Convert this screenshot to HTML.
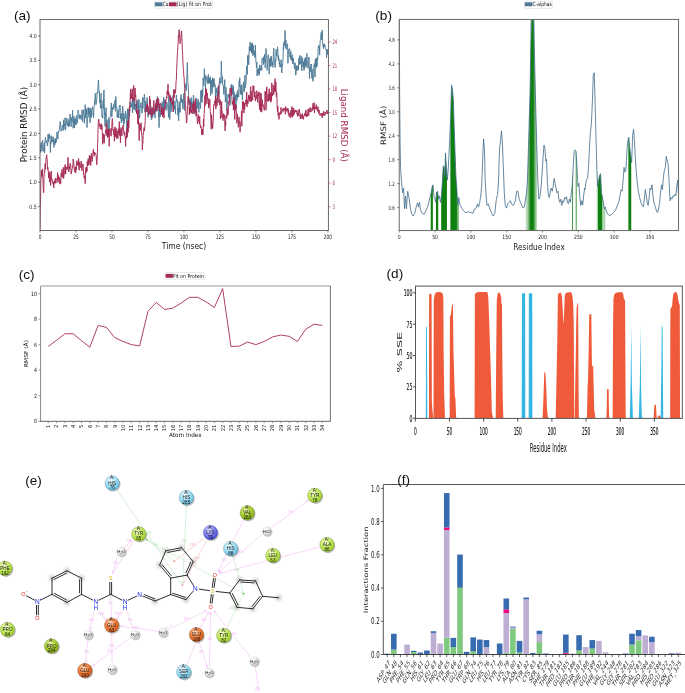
<!DOCTYPE html>
<html><head><meta charset="utf-8"><title>Figure</title>
<style>html,body{margin:0;padding:0;background:#fff}svg{display:block}</style></head>
<body>
<svg width="685" height="693" viewBox="0 0 685 693">
<rect width="685" height="693" fill="#fff"/>
<clipPath id="clipA"><rect x="40.0" y="19.6" width="288.4" height="210.9"/></clipPath>
<g clip-path="url(#clipA)">
<polyline points="40,144.59 40.29,149.4 40.58,152.57 40.86,147.08 41.15,142.4 41.44,145.99 41.73,148.6 42.02,151.3 42.31,142.56 42.59,140.04 42.88,146.98 43.17,147.31 43.46,151.21 43.75,149.62 44.04,144.74 44.32,142.7 44.61,153.04 44.9,143.86 45.19,139.78 45.48,137.36 45.77,141.49 46.05,142.44 46.34,140.59 46.63,141.13 46.92,142.41 47.21,144.18 47.5,145.99 47.78,142.78 48.07,134.13 48.36,141.79 48.65,135.05 48.94,138.29 49.23,133.77 49.51,138.38 49.8,136.21 50.09,139.62 50.38,152.51 50.67,142.36 50.95,143.67 51.24,135.59 51.53,137.93 51.82,142.22 52.11,140.3 52.4,141.75 52.68,141.11 52.97,136.71 53.26,141.95 53.55,137.81 53.84,147.44 54.13,140.36 54.41,143.52 54.7,141.63 54.99,144.68 55.28,138.47 55.57,142.67 55.86,138.54 56.14,142.37 56.43,140.04 56.72,136.98 57.01,132.03 57.3,136.31 57.59,135.4 57.87,139.11 58.16,131.37 58.45,132.63 58.74,132.05 59.03,130.37 59.32,129.04 59.6,127.97 59.89,124.05 60.18,121.45 60.47,123.07 60.76,127.05 61.05,131.29 61.33,129.92 61.62,129.69 61.91,128.33 62.2,127.5 62.49,125.09 62.77,126.63 63.06,130.65 63.35,123.11 63.64,119.8 63.93,129.2 64.22,124.35 64.5,125.89 64.79,125.63 65.08,117.73 65.37,129.93 65.66,130.05 65.95,123.84 66.23,124.72 66.52,122.47 66.81,118.03 67.1,120.07 67.39,122.41 67.68,125.82 67.96,124.99 68.25,122.27 68.54,126.72 68.83,119.45 69.12,123.91 69.41,126.14 69.69,121.15 69.98,114.11 70.27,115.84 70.56,120.53 70.85,122.54 71.14,126.82 71.42,117.65 71.71,119.41 72,122.17 72.29,119.48 72.58,110.11 72.86,120.29 73.15,128.25 73.44,124.75 73.73,116.34 74.02,116.31 74.31,118.62 74.59,127.83 74.88,122.42 75.17,119.21 75.46,124.06 75.75,118.66 76.04,124.97 76.32,116.36 76.61,115.21 76.9,119.54 77.19,123.16 77.48,120.88 77.77,118.93 78.05,110.15 78.34,112.46 78.63,113.3 78.92,113.7 79.21,118.09 79.5,115.38 79.78,119.09 80.07,117.08 80.36,114.95 80.65,116.16 80.94,117.56 81.23,119.47 81.51,114.61 81.8,114.42 82.09,109.89 82.38,120.39 82.67,122.03 82.95,115.96 83.24,113.38 83.53,109.79 83.82,114.4 84.11,115.48 84.4,123.35 84.68,117.46 84.97,112.23 85.26,104.66 85.55,118.11 85.84,116.38 86.13,109.06 86.41,114.51 86.7,108.8 86.99,127.47 87.28,122.44 87.57,119.28 87.86,115.74 88.14,107.38 88.43,113.46 88.72,109.31 89.01,116.86 89.3,107.92 89.59,110.84 89.87,119.62 90.16,122.81 90.45,112.15 90.74,108.1 91.03,116.28 91.32,117.64 91.6,110.42 91.89,109.64 92.18,109.13 92.47,106.75 92.76,107.88 93.05,115.32 93.33,113.69 93.62,117.68 93.91,109.24 94.2,106.22 94.49,101.29 94.77,102.58 95.06,97.26 95.35,93.31 95.64,101.13 95.93,104.78 96.22,102.26 96.5,102.81 96.79,98.05 97.08,92.51 97.37,93.73 97.66,91.49 97.95,87.42 98.23,80.91 98.52,79.91 98.81,87.94 99.1,92.3 99.39,91.19 99.68,102.69 99.96,99.74 100.25,102.65 100.54,108.22 100.83,99.83 101.12,93.21 101.41,108.11 101.69,105.02 101.98,116.76 102.27,115.53 102.56,118.47 102.85,116.84 103.14,100.2 103.42,108.7 103.71,91.79 104,89.98 104.29,103.31 104.58,116.32 104.86,122.79 105.15,126.59 105.44,112.9 105.73,116.23 106.02,107.71 106.31,118.75 106.59,125.52 106.88,120.05 107.17,124.86 107.46,126.34 107.75,131.41 108.04,122.84 108.32,119.37 108.61,117.84 108.9,130.12 109.19,128.08 109.48,119.88 109.77,118.86 110.05,116.9 110.34,115.83 110.63,112.22 110.92,109.62 111.21,102.88 111.5,104.31 111.78,117.02 112.07,113.51 112.36,109.93 112.65,107.39 112.94,108.13 113.23,109.65 113.51,104.3 113.8,107.5 114.09,108.22 114.38,102.75 114.67,101.16 114.95,100.3 115.24,100.2 115.53,111.3 115.82,96.44 116.11,105.05 116.4,105.52 116.68,106.02 116.97,110.5 117.26,117.56 117.55,113.82 117.84,112.27 118.13,109.58 118.41,111.74 118.7,118.05 118.99,112.46 119.28,107.27 119.57,105.64 119.86,106.29 120.14,105.03 120.43,118.5 120.72,117.55 121.01,114.25 121.3,122.94 121.59,113.45 121.87,119.21 122.16,120.89 122.45,108.59 122.74,105.98 123.03,109.1 123.32,120.31 123.6,125.35 123.89,113.13 124.18,123.32 124.47,118.2 124.76,117.46 125.05,116.89 125.33,118.45 125.62,111.09 125.91,114.38 126.2,114.27 126.49,122.85 126.77,132.54 127.06,137.34 127.35,120.8 127.64,108.75 127.93,112.44 128.22,109.5 128.5,123.96 128.79,118.59 129.08,109.61 129.37,116.11 129.66,114.71 129.95,101.96 130.23,104.49 130.52,106 130.81,107.1 131.1,107.31 131.39,104.51 131.68,106.78 131.96,102.97 132.25,100.36 132.54,112.89 132.83,109.26 133.12,108.81 133.41,97.53 133.69,102.78 133.98,109.24 134.27,99.06 134.56,109.79 134.85,103.96 135.14,106.92 135.42,104.58 135.71,105.9 136,111.5 136.29,103.97 136.58,113.35 136.86,102.82 137.15,99.91 137.44,108.47 137.73,100.87 138.02,103.23 138.31,110.94 138.59,114.52 138.88,99.23 139.17,108.55 139.46,118.35 139.75,116.97 140.04,109.05 140.32,105.57 140.61,106.68 140.9,102.48 141.19,106.63 141.48,107.09 141.77,106.73 142.05,113.23 142.34,106.28 142.63,97.37 142.92,108.43 143.21,98.59 143.5,99.17 143.78,100.33 144.07,98.77 144.36,94.15 144.65,97.33 144.94,112.21 145.23,100.91 145.51,101.67 145.8,109.4 146.09,109.7 146.38,110.54 146.67,111.94 146.95,97.47 147.24,100.99 147.53,107.86 147.82,112.07 148.11,117.39 148.4,114.2 148.68,109.78 148.97,110.47 149.26,109.41 149.55,111.82 149.84,114.84 150.13,110.12 150.41,106.64 150.7,105.8 150.99,116.42 151.28,119.91 151.57,119.25 151.86,118.52 152.14,118.38 152.43,113.94 152.72,116.75 153.01,107.77 153.3,110.09 153.59,107.4 153.87,114.48 154.16,108.61 154.45,109.59 154.74,112.28 155.03,117.79 155.32,106.98 155.6,103.5 155.89,112.02 156.18,103.09 156.47,109.34 156.76,104.83 157.05,106.07 157.33,96.68 157.62,108.15 157.91,103.97 158.2,101.1 158.49,116.87 158.77,113.03 159.06,127.61 159.35,114.04 159.64,107.07 159.93,108.18 160.22,116.76 160.5,109.88 160.79,111.12 161.08,111.9 161.37,104.43 161.66,108.61 161.95,106.24 162.23,101.81 162.52,112.54 162.81,113.9 163.1,110.84 163.39,104.73 163.68,97.31 163.96,109.21 164.25,108.56 164.54,99.69 164.83,106.53 165.12,99.98 165.41,106.62 165.69,108.94 165.98,110.53 166.27,110.05 166.56,109.62 166.85,102.29 167.14,104.73 167.42,104.5 167.71,105.88 168,108.86 168.29,111.35 168.58,117.37 168.86,95.67 169.15,107.04 169.44,106.19 169.73,119.44 170.02,114.95 170.31,99.76 170.59,107.56 170.88,104.17 171.17,111.62 171.46,101.99 171.75,105.01 172.04,105.43 172.32,105.64 172.61,102.95 172.9,95.49 173.19,106.41 173.48,111.75 173.77,107.1 174.05,100.9 174.34,106.19 174.63,109.34 174.92,105.98 175.21,106.13 175.5,113.93 175.78,101.84 176.07,102.25 176.36,94.98 176.65,99.96 176.94,100.84 177.23,99.83 177.51,101.06 177.8,115.18 178.09,108.18 178.38,107.75 178.67,120.93 178.95,112.15 179.24,101.74 179.53,111.77 179.82,107.31 180.11,112.41 180.4,99.35 180.68,99.99 180.97,94.42 181.26,102.38 181.55,97.94 181.84,102.04 182.13,101.13 182.41,99.52 182.7,107.55 182.99,109.17 183.28,104.64 183.57,97.16 183.86,93.42 184.14,98.79 184.43,110.43 184.72,96.32 185.01,90.3 185.3,88.32 185.59,84.59 185.87,83.32 186.16,84.55 186.45,90.58 186.74,81.08 187.03,73.2 187.32,62.44 187.6,73.35 187.89,83.51 188.18,83.84 188.47,88.96 188.76,97.83 189.05,104.97 189.33,104.56 189.62,102.3 189.91,99.04 190.2,101.96 190.49,100.91 190.77,112.74 191.06,97.42 191.35,98.34 191.64,107.62 191.93,101.53 192.22,109.65 192.5,103.64 192.79,103.58 193.08,100.97 193.37,95.11 193.66,96.28 193.95,114.16 194.23,109.75 194.52,108.78 194.81,110.7 195.1,109.16 195.39,111.4 195.68,104.97 195.96,103.9 196.25,110.37 196.54,104.61 196.83,98.11 197.12,102.83 197.41,102.23 197.69,108.54 197.98,102.76 198.27,99.69 198.56,102.15 198.85,112.34 199.14,105.2 199.42,104.13 199.71,102.42 200,102.97 200.29,105.9 200.58,108.46 200.86,90.64 201.15,101.58 201.44,94.99 201.73,90.26 202.02,102.52 202.31,89.65 202.59,96.82 202.88,91.51 203.17,77.89 203.46,83.17 203.75,85.79 204.04,81.66 204.32,68.72 204.61,76.71 204.9,79.3 205.19,74.87 205.48,89.91 205.77,81.91 206.05,79.34 206.34,79.29 206.63,76.67 206.92,76.27 207.21,81.05 207.5,83.41 207.78,79.56 208.07,81.1 208.36,74.46 208.65,83.54 208.94,78.72 209.23,83.03 209.51,77.97 209.8,79.11 210.09,83.46 210.38,76.74 210.67,95.47 210.95,86.02 211.24,83.85 211.53,79.88 211.82,91.83 212.11,93.44 212.4,87.97 212.68,77.77 212.97,80.36 213.26,87.26 213.55,83.14 213.84,79.01 214.13,78.53 214.41,81.15 214.7,86.46 214.99,84.47 215.28,88.12 215.57,104.52 215.86,103.01 216.14,87.78 216.43,92.42 216.72,91.82 217.01,90.12 217.3,95.92 217.59,89.4 217.87,87.72 218.16,86.8 218.45,87.82 218.74,95.33 219.03,93.92 219.32,80.93 219.6,81.23 219.89,77.78 220.18,84.25 220.47,80.88 220.76,82.19 221.05,75.06 221.33,61.12 221.62,71.88 221.91,77.28 222.2,83.17 222.49,76.56 222.77,84.91 223.06,84.79 223.35,85.74 223.64,92.28 223.93,94.5 224.22,88.98 224.5,84.08 224.79,79.63 225.08,89.8 225.37,102.1 225.66,99.16 225.95,87.31 226.23,93.07 226.52,101.92 226.81,110.23 227.1,109.08 227.39,104.23 227.68,102.01 227.96,94.43 228.25,95.86 228.54,96.6 228.83,94.13 229.12,97.93 229.41,96.05 229.69,99.4 229.98,105.38 230.27,102.01 230.56,98.66 230.85,93.48 231.14,84.52 231.42,89.38 231.71,93.19 232,84.72 232.29,94.36 232.58,88.09 232.86,92 233.15,90.16 233.44,85.82 233.73,104.13 234.02,91.65 234.31,101.39 234.59,96.61 234.88,100.46 235.17,94.66 235.46,95.06 235.75,102 236.04,108.67 236.32,94.44 236.61,95.54 236.9,100.45 237.19,92.47 237.48,97.58 237.77,90.09 238.05,95.58 238.34,94.42 238.63,97.01 238.92,91.6 239.21,80.57 239.5,86.93 239.78,77.66 240.07,87.12 240.36,94.2 240.65,91.6 240.94,85.6 241.23,94.66 241.51,91.9 241.8,84.42 242.09,88.48 242.38,99.9 242.67,92.5 242.95,92.84 243.24,90.06 243.53,81.79 243.82,86.07 244.11,91.43 244.4,91.47 244.68,89.08 244.97,75.2 245.26,87.9 245.55,85.48 245.84,84.14 246.13,82.88 246.41,70.69 246.7,65.8 246.99,68.17 247.28,74.54 247.57,56.02 247.86,58.32 248.14,54.79 248.43,59.94 248.72,64.89 249.01,55.24 249.3,46.83 249.59,50.91 249.87,48.85 250.16,41.91 250.45,50.6 250.74,46.65 251.03,51.38 251.32,43.64 251.6,52.95 251.89,43.8 252.18,53.16 252.47,42.77 252.76,55.52 253.05,51.1 253.33,45.47 253.62,50.8 253.91,55.18 254.2,50.83 254.49,52.75 254.77,57.3 255.06,57.17 255.35,44.95 255.64,54.89 255.93,61.72 256.22,63.44 256.5,67.82 256.79,61.96 257.08,75.99 257.37,71.9 257.66,69.51 257.95,73.15 258.23,74.07 258.52,71.15 258.81,67.97 259.1,75.35 259.39,74.98 259.68,65.16 259.96,64.91 260.25,70.77 260.54,69.33 260.83,68.66 261.12,69.01 261.41,65.74 261.69,70.34 261.98,60.48 262.27,58.04 262.56,59.62 262.85,60.74 263.14,60.94 263.42,64.53 263.71,56.74 264,62.62 264.29,61 264.58,54.1 264.86,56.86 265.15,67.66 265.44,64.44 265.73,58.32 266.02,48.55 266.31,54.08 266.59,55.53 266.88,59.46 267.17,70.45 267.46,65.96 267.75,63.15 268.04,57.04 268.32,54.69 268.61,58.67 268.9,58.49 269.19,74.15 269.48,62.41 269.77,58.99 270.05,66.17 270.34,63.15 270.63,56.71 270.92,66.73 271.21,61.86 271.5,56.34 271.78,62.64 272.07,64.89 272.36,61.79 272.65,65.87 272.94,67.43 273.23,59.41 273.51,51.8 273.8,48.07 274.09,56.84 274.38,64.3 274.67,64.36 274.95,65.55 275.24,67.34 275.53,58.91 275.82,61.16 276.11,49.5 276.4,56.39 276.68,56.14 276.97,53.45 277.26,50.85 277.55,46.81 277.84,51.1 278.13,58.91 278.41,55.48 278.7,60.78 278.99,58.61 279.28,64.27 279.57,61.89 279.86,66.99 280.14,65.26 280.43,67.14 280.72,63.27 281.01,59.73 281.3,62.61 281.59,69.22 281.87,72.97 282.16,65.12 282.45,66.11 282.74,63.5 283.03,58.81 283.32,46.58 283.6,49.83 283.89,42.27 284.18,45.94 284.47,41.06 284.76,41.06 285.05,30.36 285.33,43.98 285.62,47.62 285.91,40.22 286.2,49.35 286.49,48.02 286.77,47.25 287.06,45.17 287.35,43.74 287.64,46.47 287.93,63.28 288.22,54.47 288.5,52.98 288.79,49.23 289.08,48.96 289.37,49.62 289.66,48.7 289.95,56.85 290.23,53.96 290.52,58.87 290.81,51.33 291.1,59.47 291.39,57.43 291.68,60.54 291.96,58.21 292.25,54.64 292.54,63.71 292.83,58.77 293.12,60.04 293.41,58 293.69,63.43 293.98,62.94 294.27,66.83 294.56,68.95 294.85,65.76 295.14,62.81 295.42,71.41 295.71,75.2 296,74.43 296.29,65.52 296.58,70.92 296.86,70.64 297.15,69.65 297.44,69.6 297.73,65.73 298.02,66.92 298.31,70.06 298.59,63.99 298.88,58.12 299.17,62.48 299.46,64.46 299.75,55.4 300.04,58.31 300.32,64.29 300.61,61.95 300.9,62.19 301.19,55.92 301.48,64.76 301.77,70.85 302.05,63.76 302.34,60.15 302.63,57.79 302.92,66.79 303.21,65.58 303.5,61.62 303.78,70.1 304.07,70.28 304.36,69.94 304.65,58.72 304.94,62.7 305.23,66 305.51,57.59 305.8,64.55 306.09,67.49 306.38,65.51 306.67,56.36 306.95,53.57 307.24,60.44 307.53,63.66 307.82,66.55 308.11,68.18 308.4,63.83 308.68,62.61 308.97,56.98 309.26,68.7 309.55,78.74 309.84,68.71 310.13,66.68 310.41,71.5 310.7,71.55 310.99,63.96 311.28,65.46 311.57,64.3 311.86,78.25 312.14,69.27 312.43,74.56 312.72,80.72 313.01,81.4 313.3,78.83 313.59,78.62 313.87,65.17 314.16,65.63 314.45,63.46 314.74,64.38 315.03,77.08 315.32,60.03 315.6,65.75 315.89,58.39 316.18,67.46 316.47,67.7 316.76,58.23 317.05,66.32 317.33,57.74 317.62,59.96 317.91,54.59 318.2,48.1 318.49,46.07 318.77,45.47 319.06,48.29 319.35,46.15 319.64,55.14 319.93,45.1 320.22,41.1 320.5,38.53 320.79,37.03 321.08,32.47 321.37,32.38 321.66,39.72 321.95,34.99 322.23,30.08 322.52,37.29 322.81,45.46 323.1,46.16 323.39,48.52 323.68,44.56 323.96,45.49 324.25,43.81 324.54,46.97 324.83,44.91 325.12,46.94 325.41,48.75 325.69,49.45 325.98,49.86 326.27,49.42 326.56,57.88 326.85,52.82 327.14,49.19 327.42,54.27 327.71,50.12 328,49.76" fill="none" stroke="#4e7b98" stroke-width="0.95" stroke-linejoin="miter" stroke-miterlimit="3" />
<polyline points="40,230 40.29,204.87 40.58,198.86 40.86,179.23 41.15,178.64 41.44,170.21 41.73,176.67 42.02,173.35 42.31,175.37 42.59,168.84 42.88,178.52 43.17,185.4 43.46,192.59 43.75,192.63 44.04,177.07 44.32,174.25 44.61,173.19 44.9,167.2 45.19,163.34 45.48,169.41 45.77,162.69 46.05,157.83 46.34,157.76 46.63,154.72 46.92,157.13 47.21,159.61 47.5,169.47 47.78,167.19 48.07,169.01 48.36,172.39 48.65,178.08 48.94,173.19 49.23,171.75 49.51,182.08 49.8,172.88 50.09,174.85 50.38,178.93 50.67,185.36 50.95,177.06 51.24,171.03 51.53,179.87 51.82,178.55 52.11,179.13 52.4,182.37 52.68,182.79 52.97,183.54 53.26,181.81 53.55,186.44 53.84,187.92 54.13,183.38 54.41,180.64 54.7,183.54 54.99,183.15 55.28,178.06 55.57,178.54 55.86,183.17 56.14,180.36 56.43,178.79 56.72,179.92 57.01,179.17 57.3,178.88 57.59,172.52 57.87,182.47 58.16,179.56 58.45,175.31 58.74,179.99 59.03,178.69 59.32,177.26 59.6,179.96 59.89,184.15 60.18,179.47 60.47,181.46 60.76,183.48 61.05,173.7 61.33,172.89 61.62,176.57 61.91,169.34 62.2,172.06 62.49,177.34 62.77,177.49 63.06,175.84 63.35,167.39 63.64,178.53 63.93,174.99 64.22,174.55 64.5,173.26 64.79,165.69 65.08,164.57 65.37,164.67 65.66,174.21 65.95,167.33 66.23,167.33 66.52,166.97 66.81,169.57 67.1,169.93 67.39,169.27 67.68,164.32 67.96,157.32 68.25,166.18 68.54,168.45 68.83,171.98 69.12,168.56 69.41,166.21 69.69,168.9 69.98,163.27 70.27,163.56 70.56,163.65 70.85,167.67 71.14,174.15 71.42,171.33 71.71,171.82 72,169.01 72.29,168.45 72.58,165.96 72.86,165.86 73.15,159.01 73.44,161.29 73.73,161.45 74.02,168.09 74.31,168.93 74.59,170.54 74.88,172.13 75.17,166.55 75.46,169.52 75.75,172.93 76.04,167.43 76.32,169.59 76.61,166.05 76.9,160.65 77.19,164.83 77.48,162.72 77.77,165.1 78.05,163.75 78.34,165.85 78.63,158.5 78.92,170.09 79.21,170.28 79.5,164.87 79.78,161.85 80.07,164.5 80.36,167.53 80.65,167.74 80.94,168.06 81.23,161.01 81.51,162.43 81.8,170.86 82.09,169.59 82.38,164.1 82.67,165.29 82.95,164.06 83.24,165.93 83.53,174.51 83.82,173.11 84.11,178.19 84.4,177.46 84.68,175.91 84.97,180.73 85.26,183.69 85.55,171.43 85.84,167.41 86.13,172.7 86.41,169.08 86.7,167.55 86.99,171.4 87.28,161.38 87.57,165.61 87.86,161.28 88.14,158.68 88.43,159.45 88.72,165.38 89.01,162 89.3,155.28 89.59,155.59 89.87,163.65 90.16,163.43 90.45,156.19 90.74,165.48 91.03,158.16 91.32,153.48 91.6,155.44 91.89,158.92 92.18,161.45 92.47,159.73 92.76,154.27 93.05,152.23 93.33,149.37 93.62,153.53 93.91,153.11 94.2,156.06 94.49,152.18 94.77,154.08 95.06,153.66 95.35,152.87 95.64,153.1 95.93,154.92 96.22,156.23 96.5,163.5 96.79,164.94 97.08,160.84 97.37,154.77 97.66,144.16 97.95,133.18 98.23,122.73 98.52,121.86 98.81,119.26 99.1,123.38 99.39,126.53 99.68,125.7 99.96,123.9 100.25,128.68 100.54,127.82 100.83,129.15 101.12,123.64 101.41,129.36 101.69,124.69 101.98,125.18 102.27,131.48 102.56,144.21 102.85,141.6 103.14,135.97 103.42,133.69 103.71,139.67 104,143.23 104.29,143.19 104.58,135.54 104.86,135.99 105.15,133.32 105.44,133.05 105.73,129.94 106.02,132.65 106.31,122.88 106.59,126.04 106.88,135.72 107.17,130.51 107.46,137.49 107.75,129.03 108.04,132.27 108.32,136.69 108.61,129.42 108.9,129.22 109.19,146.29 109.48,132.36 109.77,128.79 110.05,128.35 110.34,131.21 110.63,131.14 110.92,136.29 111.21,136 111.5,129 111.78,127.34 112.07,120.79 112.36,118.53 112.65,121.82 112.94,130.23 113.23,129.11 113.51,132.98 113.8,134.93 114.09,129.62 114.38,141.22 114.67,129.72 114.95,126.96 115.24,127.77 115.53,136.88 115.82,132.23 116.11,128.24 116.4,133.96 116.68,138.84 116.97,132.98 117.26,130.81 117.55,137.55 117.84,138.37 118.13,138.23 118.41,128.71 118.7,132.25 118.99,133.35 119.28,121.64 119.57,135.39 119.86,132.38 120.14,129.3 120.43,142.91 120.72,134.29 121.01,127.64 121.3,129.78 121.59,133.69 121.87,135.92 122.16,131.64 122.45,126.27 122.74,126 123.03,125.59 123.32,125.23 123.6,131.65 123.89,131.33 124.18,135.08 124.47,131.93 124.76,131.86 125.05,136.42 125.33,137.37 125.62,146.48 125.91,135.79 126.2,138.55 126.49,136.84 126.77,128.56 127.06,136.93 127.35,134.75 127.64,120.88 127.93,131.63 128.22,132.43 128.5,120.22 128.79,128.3 129.08,118.77 129.37,106.64 129.66,110.87 129.95,105.31 130.23,97.04 130.52,89.12 130.81,98.78 131.1,93.85 131.39,98.63 131.68,96.96 131.96,90.94 132.25,88.71 132.54,99.96 132.83,101.26 133.12,96.62 133.41,90.01 133.69,85.5 133.98,88.14 134.27,100.32 134.56,96.79 134.85,92.28 135.14,88.13 135.42,96.79 135.71,94.85 136,101.17 136.29,108.42 136.58,113.69 136.86,111.63 137.15,109.53 137.44,113.29 137.73,123.85 138.02,119.5 138.31,109.97 138.59,125.12 138.88,122.47 139.17,140.66 139.46,124.21 139.75,124.27 140.04,124.91 140.32,130.42 140.61,128.09 140.9,124.37 141.19,122.8 141.48,133.96 141.77,135.05 142.05,135.67 142.34,149.97 142.63,144.23 142.92,143.23 143.21,132.98 143.5,133.74 143.78,129.77 144.07,127.59 144.36,130.95 144.65,129.05 144.94,124.61 145.23,120.53 145.51,108.71 145.8,107.7 146.09,111.34 146.38,107.58 146.67,104.46 146.95,109.73 147.24,103.7 147.53,103.51 147.82,111.72 148.11,106.53 148.4,114.91 148.68,111.59 148.97,112.2 149.26,113.86 149.55,96.15 149.84,103.93 150.13,99.27 150.41,102.98 150.7,105.98 150.99,114.2 151.28,109.23 151.57,117.53 151.86,107.78 152.14,108.42 152.43,109.59 152.72,114.71 153.01,110.27 153.3,105.94 153.59,106.33 153.87,100.37 154.16,113.3 154.45,113.13 154.74,111.13 155.03,109.64 155.32,104.3 155.6,103.98 155.89,110.29 156.18,102.57 156.47,99.29 156.76,110.04 157.05,110.96 157.33,102.92 157.62,101.12 157.91,98.58 158.2,106.05 158.49,98.44 158.77,100.52 159.06,104.05 159.35,110.92 159.64,104.16 159.93,106.19 160.22,103.61 160.5,103.05 160.79,103.84 161.08,108.91 161.37,114.78 161.66,107.94 161.95,107.38 162.23,108.78 162.52,113.63 162.81,117.02 163.1,107.67 163.39,114.75 163.68,109.45 163.96,117.98 164.25,111.24 164.54,108.35 164.83,106.98 165.12,107.94 165.41,100.86 165.69,103.57 165.98,101.58 166.27,98.54 166.56,96.63 166.85,98.21 167.14,90.86 167.42,93.61 167.71,94.47 168,84.17 168.29,95.5 168.58,92.16 168.86,92.13 169.15,94.01 169.44,97.74 169.73,99.85 170.02,101.25 170.31,95.33 170.59,101.63 170.88,101.63 171.17,97.38 171.46,98.56 171.75,103.36 172.04,102.53 172.32,103.89 172.61,101.12 172.9,105.69 173.19,111.87 173.48,103.16 173.77,89.64 174.05,97.91 174.34,94.91 174.63,92.18 174.92,89.19 175.21,93.15 175.5,93.26 175.78,88.78 176.07,81.48 176.36,79.52 176.65,70.79 176.94,62.63 177.23,56.81 177.51,51.74 177.8,47.5 178.09,44.07 178.38,35.38 178.67,37.39 178.95,30.81 179.24,29.69 179.53,33.72 179.82,41.33 180.11,43.76 180.4,42.49 180.68,40.92 180.97,37.44 181.26,33.42 181.55,30.95 181.84,36.1 182.13,42.55 182.41,50.45 182.7,55.62 182.99,63.68 183.28,67.58 183.57,70.68 183.86,77.04 184.14,77.5 184.43,84.55 184.72,88.43 185.01,99.19 185.3,103.05 185.59,105.82 185.87,114.59 186.16,115.26 186.45,123.08 186.74,122.71 187.03,116.69 187.32,111.96 187.6,105.49 187.89,100.3 188.18,96.31 188.47,102.47 188.76,98.75 189.05,101.06 189.33,114.76 189.62,108.1 189.91,106.93 190.2,112.96 190.49,102.34 190.77,109.2 191.06,110.93 191.35,109.65 191.64,112.23 191.93,111.78 192.22,113.86 192.5,104.5 192.79,108.19 193.08,103.77 193.37,112.54 193.66,109.09 193.95,101.1 194.23,107.34 194.52,103.2 194.81,113.37 195.1,108.99 195.39,98.56 195.68,106.36 195.96,116.08 196.25,114.96 196.54,110.01 196.83,116.45 197.12,118.17 197.41,124.01 197.69,122.93 197.98,120.5 198.27,114.47 198.56,119.55 198.85,121.44 199.14,120.98 199.42,123.74 199.71,116.42 200,124.98 200.29,124.85 200.58,127.62 200.86,126.74 201.15,126.39 201.44,130.22 201.73,134.83 202.02,130.67 202.31,133.67 202.59,129.02 202.88,134.84 203.17,130.16 203.46,118.97 203.75,126.41 204.04,114.03 204.32,113.5 204.61,102.96 204.9,95.44 205.19,105.73 205.48,95.72 205.77,88.65 206.05,95.72 206.34,88.88 206.63,93.26 206.92,103.78 207.21,92.96 207.5,96.25 207.78,99.21 208.07,99.31 208.36,98.51 208.65,108.12 208.94,102.9 209.23,105.2 209.51,105.53 209.8,99.31 210.09,108.67 210.38,111.65 210.67,117.7 210.95,121.51 211.24,129.26 211.53,114.77 211.82,120.02 212.11,123.12 212.4,123.23 212.68,128.47 212.97,123.42 213.26,120.47 213.55,107.37 213.84,104.6 214.13,105.36 214.41,102.84 214.7,100.96 214.99,102.51 215.28,101.36 215.57,96.29 215.86,109.02 216.14,98.74 216.43,102.89 216.72,103.67 217.01,106.1 217.3,98.69 217.59,95.02 217.87,102.06 218.16,102.89 218.45,89.4 218.74,85.29 219.03,95.61 219.32,98.93 219.6,100.52 219.89,104.95 220.18,99.91 220.47,119.1 220.76,115.2 221.05,117.57 221.33,113.77 221.62,101.6 221.91,112.31 222.2,111.62 222.49,117.85 222.77,116.41 223.06,120.57 223.35,113.63 223.64,115.17 223.93,117.8 224.22,114.7 224.5,115.92 224.79,122.2 225.08,130.88 225.37,121.78 225.66,125.62 225.95,115.36 226.23,115.08 226.52,117.81 226.81,118.35 227.1,108.61 227.39,113.7 227.68,111.04 227.96,115.25 228.25,112.82 228.54,108.85 228.83,101.7 229.12,103.08 229.41,96.75 229.69,94.82 229.98,88.31 230.27,89.04 230.56,88.67 230.85,94.06 231.14,95.63 231.42,87.62 231.71,93.98 232,99.32 232.29,104.5 232.58,101.47 232.86,103.7 233.15,102.28 233.44,110.08 233.73,99.89 234.02,108.41 234.31,97.98 234.59,118.24 234.88,119.48 235.17,104.26 235.46,109.91 235.75,107.12 236.04,105.28 236.32,112.67 236.61,112.45 236.9,123.2 237.19,117.91 237.48,114.2 237.77,119.37 238.05,123.64 238.34,127.33 238.63,127.03 238.92,116.98 239.21,119.17 239.5,124.24 239.78,123.02 240.07,132.23 240.36,126.18 240.65,124.55 240.94,120.91 241.23,120.63 241.51,110.8 241.8,126.19 242.09,113.99 242.38,108.96 242.67,101.42 242.95,107.75 243.24,101.35 243.53,107.99 243.82,113.08 244.11,110.13 244.4,102.96 244.68,109.47 244.97,103.27 245.26,102.69 245.55,103.15 245.84,100.4 246.13,104.53 246.41,96.72 246.7,92.14 246.99,106.82 247.28,99.84 247.57,100.31 247.86,104.05 248.14,100.4 248.43,95.17 248.72,98.64 249.01,94.9 249.3,101.4 249.59,97.03 249.87,96.48 250.16,101.22 250.45,89.49 250.74,86.64 251.03,97.16 251.32,101.74 251.6,96.46 251.89,91 252.18,99.9 252.47,98 252.76,100.14 253.05,85.52 253.33,91.08 253.62,87.43 253.91,86.17 254.2,94.62 254.49,97.15 254.77,91.49 255.06,91.96 255.35,101.1 255.64,99.76 255.93,95.82 256.22,98.73 256.5,97.72 256.79,90.7 257.08,93.55 257.37,98.83 257.66,102.22 257.95,93.82 258.23,94.39 258.52,95.99 258.81,91.8 259.1,105 259.39,104.84 259.68,109.65 259.96,92.61 260.25,96.44 260.54,111.49 260.83,98.12 261.12,93.33 261.41,103.2 261.69,112.17 261.98,108.99 262.27,99.63 262.56,105.32 262.85,105.6 263.14,104.66 263.42,104.89 263.71,107.03 264,109.05 264.29,110.36 264.58,108.81 264.86,101.85 265.15,91.11 265.44,101.17 265.73,92.35 266.02,110.14 266.31,95.7 266.59,88.65 266.88,86.87 267.17,98.07 267.46,99.83 267.75,101.84 268.04,100.17 268.32,94.09 268.61,101.05 268.9,94.51 269.19,88.68 269.48,100.02 269.77,100.42 270.05,92.65 270.34,94.44 270.63,101.47 270.92,102.42 271.21,91.92 271.5,100.8 271.78,82.86 272.07,92.72 272.36,96.12 272.65,93.87 272.94,94.27 273.23,84.94 273.51,90.34 273.8,94.52 274.09,87.57 274.38,91.33 274.67,90.22 274.95,78.69 275.24,84.57 275.53,91.86 275.82,81.89 276.11,90.17 276.4,96.79 276.68,92.32 276.97,98.9 277.26,108.65 277.55,112.13 277.84,106.09 278.13,115.63 278.41,113.96 278.7,112.45 278.99,119.43 279.28,114.63 279.57,112.77 279.86,113.66 280.14,113.21 280.43,114.44 280.72,111.68 281.01,107.43 281.3,113.77 281.59,113.38 281.87,112.57 282.16,111.23 282.45,110.53 282.74,110.68 283.03,108.3 283.32,111.44 283.6,110.51 283.89,107.91 284.18,109.9 284.47,108.93 284.76,108.97 285.05,109.75 285.33,114.19 285.62,106.47 285.91,107.56 286.2,108.01 286.49,108.34 286.77,111.45 287.06,108.61 287.35,108.88 287.64,110.31 287.93,108.28 288.22,113.64 288.5,110.14 288.79,113.73 289.08,116.4 289.37,112.98 289.66,113.84 289.95,113.76 290.23,117.85 290.52,115.44 290.81,110.37 291.1,115.35 291.39,116.24 291.68,109.68 291.96,106.53 292.25,117.43 292.54,114.18 292.83,108.49 293.12,114.11 293.41,116.03 293.69,107.99 293.98,114.15 294.27,114.15 294.56,112.43 294.85,110.44 295.14,112.28 295.42,109.95 295.71,111.45 296,110.76 296.29,110.21 296.58,112.47 296.86,114.08 297.15,114.39 297.44,113.64 297.73,116.35 298.02,110.64 298.31,112.46 298.59,113.28 298.88,115.88 299.17,108.96 299.46,111.6 299.75,112.59 300.04,114.06 300.32,119.07 300.61,115.85 300.9,114.55 301.19,115.55 301.48,117.12 301.77,115.06 302.05,118.83 302.34,113.42 302.63,117.78 302.92,117.6 303.21,118.09 303.5,119.35 303.78,115.61 304.07,116.17 304.36,115.89 304.65,113.85 304.94,112.98 305.23,112.69 305.51,116.14 305.8,109.95 306.09,110.71 306.38,113.64 306.67,116.76 306.95,114.12 307.24,116.32 307.53,113.66 307.82,111.81 308.11,108.91 308.4,111.91 308.68,115.74 308.97,112.75 309.26,109.37 309.55,111.98 309.84,108.02 310.13,107.43 310.41,112.05 310.7,111.29 310.99,112.13 311.28,110.48 311.57,109.11 311.86,109.22 312.14,107.93 312.43,110.45 312.72,105.62 313.01,103.23 313.3,105.02 313.59,109.27 313.87,107.02 314.16,102.64 314.45,113.04 314.74,107 315.03,107.29 315.32,109.06 315.6,108.98 315.89,107.79 316.18,104.58 316.47,108.86 316.76,106.83 317.05,108.49 317.33,111.25 317.62,109.68 317.91,106.57 318.2,108.84 318.49,112.35 318.77,113.7 319.06,109.89 319.35,112.36 319.64,113.56 319.93,115.63 320.22,114.73 320.5,114.11 320.79,113.06 321.08,114.65 321.37,115.78 321.66,114.09 321.95,113.56 322.23,118.01 322.52,115.17 322.81,112.96 323.1,115.52 323.39,111.76 323.68,111.16 323.96,115.32 324.25,114.15 324.54,115.48 324.83,115.62 325.12,112.17 325.41,114.07 325.69,112.44 325.98,113.27 326.27,113.53 326.56,112.86 326.85,110.05 327.14,112.94 327.42,112.95 327.71,114.08 328,110.85" fill="none" stroke="#a72a56" stroke-width="0.95" stroke-linejoin="miter" stroke-miterlimit="3" />
</g>
<rect x="40" y="19.6" width="288.4" height="210.9" fill="none" stroke="#5a5a5a" stroke-width="0.9" />
<line x1="38" y1="206.62" x2="40" y2="206.62" stroke="#333" stroke-width="0.6" />
<text x="36.6" y="208.72" font-family="'DejaVu Sans','Liberation Sans',sans-serif" font-size="5.9" fill="#1a1a1a" text-anchor="end" textLength="7.4" lengthAdjust="spacingAndGlyphs" >0.5</text>
<line x1="38" y1="182.25" x2="40" y2="182.25" stroke="#333" stroke-width="0.6" />
<text x="36.6" y="184.35" font-family="'DejaVu Sans','Liberation Sans',sans-serif" font-size="5.9" fill="#1a1a1a" text-anchor="end" textLength="7.4" lengthAdjust="spacingAndGlyphs" >1.0</text>
<line x1="38" y1="157.88" x2="40" y2="157.88" stroke="#333" stroke-width="0.6" />
<text x="36.6" y="159.97" font-family="'DejaVu Sans','Liberation Sans',sans-serif" font-size="5.9" fill="#1a1a1a" text-anchor="end" textLength="7.4" lengthAdjust="spacingAndGlyphs" >1.5</text>
<line x1="38" y1="133.5" x2="40" y2="133.5" stroke="#333" stroke-width="0.6" />
<text x="36.6" y="135.6" font-family="'DejaVu Sans','Liberation Sans',sans-serif" font-size="5.9" fill="#1a1a1a" text-anchor="end" textLength="7.4" lengthAdjust="spacingAndGlyphs" >2.0</text>
<line x1="38" y1="109.12" x2="40" y2="109.12" stroke="#333" stroke-width="0.6" />
<text x="36.6" y="111.22" font-family="'DejaVu Sans','Liberation Sans',sans-serif" font-size="5.9" fill="#1a1a1a" text-anchor="end" textLength="7.4" lengthAdjust="spacingAndGlyphs" >2.5</text>
<line x1="38" y1="84.75" x2="40" y2="84.75" stroke="#333" stroke-width="0.6" />
<text x="36.6" y="86.85" font-family="'DejaVu Sans','Liberation Sans',sans-serif" font-size="5.9" fill="#1a1a1a" text-anchor="end" textLength="7.4" lengthAdjust="spacingAndGlyphs" >3.0</text>
<line x1="38" y1="60.38" x2="40" y2="60.38" stroke="#333" stroke-width="0.6" />
<text x="36.6" y="62.48" font-family="'DejaVu Sans','Liberation Sans',sans-serif" font-size="5.9" fill="#1a1a1a" text-anchor="end" textLength="7.4" lengthAdjust="spacingAndGlyphs" >3.5</text>
<line x1="38" y1="36" x2="40" y2="36" stroke="#333" stroke-width="0.6" />
<text x="36.6" y="38.1" font-family="'DejaVu Sans','Liberation Sans',sans-serif" font-size="5.9" fill="#1a1a1a" text-anchor="end" textLength="7.4" lengthAdjust="spacingAndGlyphs" >4.0</text>
<line x1="40" y1="230.5" x2="40" y2="232.5" stroke="#444" stroke-width="0.6" />
<text x="40" y="239" font-family="'DejaVu Sans','Liberation Sans',sans-serif" font-size="6.1" fill="#1a1a1a" text-anchor="middle" textLength="2.75" lengthAdjust="spacingAndGlyphs" >0</text>
<line x1="75.99" y1="230.5" x2="75.99" y2="232.5" stroke="#444" stroke-width="0.6" />
<text x="75.99" y="239" font-family="'DejaVu Sans','Liberation Sans',sans-serif" font-size="6.1" fill="#1a1a1a" text-anchor="middle" textLength="5.5" lengthAdjust="spacingAndGlyphs" >25</text>
<line x1="111.97" y1="230.5" x2="111.97" y2="232.5" stroke="#444" stroke-width="0.6" />
<text x="111.97" y="239" font-family="'DejaVu Sans','Liberation Sans',sans-serif" font-size="6.1" fill="#1a1a1a" text-anchor="middle" textLength="5.5" lengthAdjust="spacingAndGlyphs" >50</text>
<line x1="147.96" y1="230.5" x2="147.96" y2="232.5" stroke="#444" stroke-width="0.6" />
<text x="147.96" y="239" font-family="'DejaVu Sans','Liberation Sans',sans-serif" font-size="6.1" fill="#1a1a1a" text-anchor="middle" textLength="5.5" lengthAdjust="spacingAndGlyphs" >75</text>
<line x1="183.95" y1="230.5" x2="183.95" y2="232.5" stroke="#444" stroke-width="0.6" />
<text x="183.95" y="239" font-family="'DejaVu Sans','Liberation Sans',sans-serif" font-size="6.1" fill="#1a1a1a" text-anchor="middle" textLength="8.25" lengthAdjust="spacingAndGlyphs" >100</text>
<line x1="219.94" y1="230.5" x2="219.94" y2="232.5" stroke="#444" stroke-width="0.6" />
<text x="219.94" y="239" font-family="'DejaVu Sans','Liberation Sans',sans-serif" font-size="6.1" fill="#1a1a1a" text-anchor="middle" textLength="8.25" lengthAdjust="spacingAndGlyphs" >125</text>
<line x1="255.93" y1="230.5" x2="255.93" y2="232.5" stroke="#444" stroke-width="0.6" />
<text x="255.93" y="239" font-family="'DejaVu Sans','Liberation Sans',sans-serif" font-size="6.1" fill="#1a1a1a" text-anchor="middle" textLength="8.25" lengthAdjust="spacingAndGlyphs" >150</text>
<line x1="291.91" y1="230.5" x2="291.91" y2="232.5" stroke="#444" stroke-width="0.6" />
<text x="291.91" y="239" font-family="'DejaVu Sans','Liberation Sans',sans-serif" font-size="6.1" fill="#1a1a1a" text-anchor="middle" textLength="8.25" lengthAdjust="spacingAndGlyphs" >175</text>
<line x1="327.9" y1="230.5" x2="327.9" y2="232.5" stroke="#444" stroke-width="0.6" />
<text x="327.9" y="239" font-family="'DejaVu Sans','Liberation Sans',sans-serif" font-size="6.1" fill="#1a1a1a" text-anchor="middle" textLength="8.25" lengthAdjust="spacingAndGlyphs" >200</text>
<line x1="328.4" y1="206.75" x2="330.4" y2="206.75" stroke="#a72a56" stroke-width="0.6" />
<text x="332.4" y="208.95" font-family="'DejaVu Sans','Liberation Sans',sans-serif" font-size="6.2" fill="#a72a56" text-anchor="start" textLength="2.45" lengthAdjust="spacingAndGlyphs" >3</text>
<line x1="328.4" y1="183.2" x2="330.4" y2="183.2" stroke="#a72a56" stroke-width="0.6" />
<text x="332.4" y="185.4" font-family="'DejaVu Sans','Liberation Sans',sans-serif" font-size="6.2" fill="#a72a56" text-anchor="start" textLength="2.45" lengthAdjust="spacingAndGlyphs" >6</text>
<line x1="328.4" y1="159.65" x2="330.4" y2="159.65" stroke="#a72a56" stroke-width="0.6" />
<text x="332.4" y="161.85" font-family="'DejaVu Sans','Liberation Sans',sans-serif" font-size="6.2" fill="#a72a56" text-anchor="start" textLength="2.45" lengthAdjust="spacingAndGlyphs" >9</text>
<line x1="328.4" y1="136.1" x2="330.4" y2="136.1" stroke="#a72a56" stroke-width="0.6" />
<text x="332.4" y="138.3" font-family="'DejaVu Sans','Liberation Sans',sans-serif" font-size="6.2" fill="#a72a56" text-anchor="start" textLength="4.9" lengthAdjust="spacingAndGlyphs" >12</text>
<line x1="328.4" y1="112.55" x2="330.4" y2="112.55" stroke="#a72a56" stroke-width="0.6" />
<text x="332.4" y="114.75" font-family="'DejaVu Sans','Liberation Sans',sans-serif" font-size="6.2" fill="#a72a56" text-anchor="start" textLength="4.9" lengthAdjust="spacingAndGlyphs" >15</text>
<line x1="328.4" y1="89" x2="330.4" y2="89" stroke="#a72a56" stroke-width="0.6" />
<text x="332.4" y="91.2" font-family="'DejaVu Sans','Liberation Sans',sans-serif" font-size="6.2" fill="#a72a56" text-anchor="start" textLength="4.9" lengthAdjust="spacingAndGlyphs" >18</text>
<line x1="328.4" y1="65.45" x2="330.4" y2="65.45" stroke="#a72a56" stroke-width="0.6" />
<text x="332.4" y="67.65" font-family="'DejaVu Sans','Liberation Sans',sans-serif" font-size="6.2" fill="#a72a56" text-anchor="start" textLength="4.9" lengthAdjust="spacingAndGlyphs" >21</text>
<line x1="328.4" y1="41.9" x2="330.4" y2="41.9" stroke="#a72a56" stroke-width="0.6" />
<text x="332.4" y="44.1" font-family="'DejaVu Sans','Liberation Sans',sans-serif" font-size="6.2" fill="#a72a56" text-anchor="start" textLength="4.9" lengthAdjust="spacingAndGlyphs" >24</text>
<text x="26.6" y="124.6" font-family="'DejaVu Sans','Liberation Sans',sans-serif" font-size="8.4" fill="#1a1a1a" text-anchor="middle" textLength="75.5" lengthAdjust="spacingAndGlyphs" transform="rotate(-90 26.6 124.6)" >Protein RMSD (Å)</text>
<text x="341.2" y="125.3" font-family="'DejaVu Sans','Liberation Sans',sans-serif" font-size="8.3" fill="#a72a56" text-anchor="middle" textLength="73.3" lengthAdjust="spacingAndGlyphs" transform="rotate(90 341.2 125.3)" >Ligand RMSD (Å)</text>
<text x="184" y="249" font-family="'DejaVu Sans','Liberation Sans',sans-serif" font-size="8.7" fill="#1a1a1a" text-anchor="middle" textLength="44.5" lengthAdjust="spacingAndGlyphs" >Time (nsec)</text>
<text x="14" y="19.6" font-family="'Liberation Sans','DejaVu Sans',sans-serif" font-size="13.6" fill="#111" text-anchor="start" >(a)</text>
<rect x="154.6" y="1.2" width="57.8" height="7" fill="#fff" stroke="#d0d0d0" stroke-width="0.5" rx="0.8"/>
<rect x="154.9" y="2.3" width="7.7" height="4" fill="#4e7b98" stroke="none" stroke-width="1" />
<text x="162.8" y="6.4" font-family="'DejaVu Sans','Liberation Sans',sans-serif" font-size="5.6" fill="#111" text-anchor="start" textLength="5.6" lengthAdjust="spacingAndGlyphs" >Cα</text>
<rect x="168.9" y="2.3" width="7.7" height="4" fill="#a72a56" stroke="none" stroke-width="1" />
<text x="176.8" y="6.4" font-family="'DejaVu Sans','Liberation Sans',sans-serif" font-size="5.6" fill="#111" text-anchor="start" textLength="35" lengthAdjust="spacingAndGlyphs" >(Lig) fit on Prot</text>
<clipPath id="clipB"><rect x="399.2" y="19.4" width="279.40000000000003" height="211.2"/></clipPath>
<g clip-path="url(#clipB)">
<polygon points="430.73,230.6 430.73,194.5 431.19,192.78 432.14,186.43 432.88,185.2 432.88,230.6" fill="#0f800f" opacity="1"/>
<polygon points="435.96,230.6 435.96,198.82 436.59,192.14 437.54,191.19 438.25,197.15 438.25,230.6" fill="#0f800f" opacity="1"/>
<polygon points="441.19,230.6 441.19,197 441.35,195.95 442.3,183.25 443.25,165.79 444.21,167.38 444.84,176.9 445.48,153.1 446.43,167.38 446.93,174.01 446.93,230.6" fill="#0f800f" opacity="1"/>
<polygon points="450.37,230.6 450.37,124.2 450.56,119.76 451.51,84.84 452.46,89.6 453.41,100.71 454.05,122.94 455,151.51 455.95,176.9 456.9,189.6 456.96,190.49 456.96,230.6" fill="#0f800f" opacity="1"/>
<polygon points="456.96,230.6 456.96,190.49 457.86,205.48 458.81,197.54 458.82,197.62 458.82,230.6" fill="#0f800f" opacity="0.6"/>
<polygon points="525.82,230.6 525.82,197.34 526.51,192.78 527.46,180.08 527.69,172.54 527.69,230.6" fill="#0f800f" opacity="0.3"/>
<polygon points="527.69,230.6 527.69,172.54 528.41,148.33 529.33,117.6 529.33,230.6" fill="#0f800f" opacity="0.55"/>
<polygon points="529.33,230.6 529.33,117.6 529.37,116.59 530,94.37 530.79,46.75 531.43,19.4 532.54,19.4 533.49,19.4 533.92,23.39 533.92,230.6" fill="#0f800f" opacity="1"/>
<polygon points="533.92,230.6 533.92,23.39 534.29,46.75 535.4,94.37 535.5,98.13 535.5,230.6" fill="#0f800f" opacity="0.7"/>
<polygon points="535.5,230.6 535.5,98.13 536.67,141.98 536.79,146.12 536.79,230.6" fill="#0f800f" opacity="0.4"/>
<polygon points="572.26,230.6 572.26,185.7 573.05,169.93 573.05,230.6" fill="#0f800f" opacity="1"/>
<polygon points="575.77,230.6 575.77,151.07 576.03,151.51 576.56,160.29 576.56,230.6" fill="#0f800f" opacity="1"/>
<polygon points="596.69,230.6 596.69,161.45 597.06,173.73 597.7,186.43 597.98,184.52 597.98,230.6" fill="#0f800f" opacity="0.35"/>
<polygon points="597.98,230.6 597.98,184.52 598.65,180.08 599.6,175.32 600.56,173.73 601.51,192.78 602.43,197.38 602.43,230.6" fill="#0f800f" opacity="1"/>
<polygon points="603.14,230.6 603.14,200.96 603.41,202.3 604.37,208.65 605.29,207.1 605.29,230.6" fill="#0f800f" opacity="0.35"/>
<polygon points="628.37,230.6 628.37,138.69 628.81,137.22 629.76,148.33 630.71,154.68 631.24,159.02 631.24,230.6" fill="#0f800f" opacity="1"/>
<polyline points="399.32,18.17 399.63,94.37 400.08,141.98 400.56,167.38 401.35,180.08 402.62,192.78 403.57,188.02 404.52,208.65 405.48,195.95 406.43,208.65 407.7,191.19 408.97,197.54 410.24,207.06 411.51,213.41 413.1,215.95 414.68,213.41 416.59,205.48 417.54,202.94 418.49,207.06 419.44,202.3 420.4,209.29 422.3,213.41 424.21,214.37 426.11,210.24 428.02,205.48 429.92,197.54 431.19,192.78 432.14,186.43 433.1,184.84 434.05,197.54 435,199.13 435.63,202.3 436.59,192.14 437.54,191.19 438.49,199.13 439.44,195.95 440.4,202.3 441.35,195.95 442.3,183.25 443.25,165.79 444.21,167.38 444.84,176.9 445.48,153.1 446.43,167.38 447.38,180.08 448.33,167.38 449.6,141.98 450.56,119.76 451.51,84.84 452.46,89.6 453.41,100.71 454.05,122.94 455,151.51 455.95,176.9 456.9,189.6 457.86,205.48 458.81,197.54 459.76,203.89 461.03,207.06 463.25,210.24 465.48,212.78 468.02,211.83 470.56,212.46 472.78,213.41 474.37,209.29 475.95,208.65 477.54,203.89 478.49,207.06 479.76,202.3 480.71,195.95 481.67,186.43 482.62,161.03 483.57,138.81 484.52,151.51 485.16,180.08 486.11,195.95 487.06,205.48 488.33,203.89 489.6,208.65 490,208.65 491.59,213.41 493.17,215.95 494.76,213.41 496.35,199.13 497.62,194.37 498.57,180.08 499.52,148.33 500.48,141.98 501.43,130.87 502.38,141.98 503.33,167.38 504.29,192.78 505.24,205.48 506.51,208.02 507.78,203.89 509.05,202.3 510.32,200.71 511.59,203.89 512.86,205.48 514.13,203.89 515.4,200.71 516.67,191.19 517.94,191.19 519.21,199.13 520.48,202.3 521.75,205.48 523.02,208.02 524.29,207.06 525.56,199.13 526.51,192.78 527.46,180.08 528.41,148.33 529.37,116.59 530,94.37 530.79,46.75 531.43,-4.05 532.54,-48.49 533.49,-4.05 534.29,46.75 535.4,94.37 536.67,141.98 537.78,180.08 538.89,199.13 540.16,195.95 541.11,186.43 542.06,173.73 543.02,157.86 543.97,145.16 544.92,148.33 545.87,161.03 546.51,159.44 547.46,183.25 548.41,195.95 549.37,197.54 550.32,191.19 551.27,188.02 552.22,191.19 553.17,186.43 554.13,178.49 555.08,183.25 556.03,188.02 556.98,192.78 557.94,191.19 558.89,199.13 559.84,202.3 560.79,199.13 561.75,205.48 562.7,200.71 563.65,202.3 564.6,197.54 565.56,199.13 566.51,196.59 567.46,202.3 568.41,203.89 569.37,199.13 570.32,202.3 571.27,192.78 572.22,186.43 573.17,167.38 574.13,151.51 575.08,149.92 576.03,151.51 576.98,167.38 577.94,186.43 578.89,183.25 579.84,197.54 580.79,205.48 581.75,200.71 582.7,204.84 583.65,195.95 584.6,188.02 585,189.6 586.27,180.08 587.54,178.49 588.49,167.38 589.44,148.33 590.4,132.46 591.35,124.52 592.3,103.89 593.25,75.32 594.21,72.78 595.16,103.89 596.11,141.98 597.06,173.73 597.7,186.43 598.65,180.08 599.6,175.32 600.56,173.73 601.51,192.78 602.46,197.54 603.41,202.3 604.37,208.65 605.32,207.06 606.59,211.83 607.86,214.37 609.76,215.63 611.67,214.37 613.57,212.46 615.48,210.24 617.38,205.48 618.65,202.3 619.92,195.95 621.19,189.6 622.14,191.19 623.1,180.08 624.05,167.38 625,172.14 625.95,170.56 626.9,151.51 627.86,140.4 628.81,137.22 629.76,148.33 630.71,154.68 631.67,162.62 632.62,135.63 633.57,129.29 634.52,141.98 635.48,161.03 636.43,173.73 637.38,183.25 638.33,191.19 639.6,197.54 640.87,202.3 642.14,205.48 643.41,207.06 644.37,199.13 645.32,189.6 646.27,195.95 647.22,202.3 648.17,205.48 649.13,197.54 650.08,188.02 651.03,189.6 651.98,184.84 652.94,195.95 653.89,202.3 654.84,205.48 655.79,208.65 656.75,211.83 657.7,212.46 658.65,208.65 659.6,202.3 660.56,192.78 661.51,184.84 662.46,189.6 663.41,176.9 664.37,170.56 665.32,167.38 666.27,156.27 667.22,161.03 668.17,164.21 669.13,183.25 670.08,200.71 671.03,197.54 671.98,199.13 672.94,195.95 673.89,196.59 674.84,194.37 675.79,195.95 676.75,186.43 677.7,180.08 678.33,192.78" fill="none" stroke="#3f6b8c" stroke-width="0.8" stroke-linejoin="miter" stroke-miterlimit="3" />
</g>
<rect x="399.2" y="19.4" width="279.4" height="211.2" fill="none" stroke="#5a5a5a" stroke-width="0.9" />
<line x1="397.2" y1="207.64" x2="399.2" y2="207.64" stroke="#333" stroke-width="0.6" />
<text x="394.8" y="209.74" font-family="'DejaVu Sans','Liberation Sans',sans-serif" font-size="5.9" fill="#1a1a1a" text-anchor="end" textLength="6.2" lengthAdjust="spacingAndGlyphs" >0.6</text>
<line x1="397.2" y1="183.67" x2="399.2" y2="183.67" stroke="#333" stroke-width="0.6" />
<text x="394.8" y="185.77" font-family="'DejaVu Sans','Liberation Sans',sans-serif" font-size="5.9" fill="#1a1a1a" text-anchor="end" textLength="6.2" lengthAdjust="spacingAndGlyphs" >1.2</text>
<line x1="397.2" y1="159.71" x2="399.2" y2="159.71" stroke="#333" stroke-width="0.6" />
<text x="394.8" y="161.81" font-family="'DejaVu Sans','Liberation Sans',sans-serif" font-size="5.9" fill="#1a1a1a" text-anchor="end" textLength="6.2" lengthAdjust="spacingAndGlyphs" >1.8</text>
<line x1="397.2" y1="135.74" x2="399.2" y2="135.74" stroke="#333" stroke-width="0.6" />
<text x="394.8" y="137.84" font-family="'DejaVu Sans','Liberation Sans',sans-serif" font-size="5.9" fill="#1a1a1a" text-anchor="end" textLength="6.2" lengthAdjust="spacingAndGlyphs" >2.4</text>
<line x1="397.2" y1="111.78" x2="399.2" y2="111.78" stroke="#333" stroke-width="0.6" />
<text x="394.8" y="113.88" font-family="'DejaVu Sans','Liberation Sans',sans-serif" font-size="5.9" fill="#1a1a1a" text-anchor="end" textLength="6.2" lengthAdjust="spacingAndGlyphs" >3.0</text>
<line x1="397.2" y1="87.82" x2="399.2" y2="87.82" stroke="#333" stroke-width="0.6" />
<text x="394.8" y="89.92" font-family="'DejaVu Sans','Liberation Sans',sans-serif" font-size="5.9" fill="#1a1a1a" text-anchor="end" textLength="6.2" lengthAdjust="spacingAndGlyphs" >3.6</text>
<line x1="397.2" y1="63.85" x2="399.2" y2="63.85" stroke="#333" stroke-width="0.6" />
<text x="394.8" y="65.95" font-family="'DejaVu Sans','Liberation Sans',sans-serif" font-size="5.9" fill="#1a1a1a" text-anchor="end" textLength="6.2" lengthAdjust="spacingAndGlyphs" >4.2</text>
<line x1="397.2" y1="39.89" x2="399.2" y2="39.89" stroke="#333" stroke-width="0.6" />
<text x="394.8" y="41.99" font-family="'DejaVu Sans','Liberation Sans',sans-serif" font-size="5.9" fill="#1a1a1a" text-anchor="end" textLength="6.2" lengthAdjust="spacingAndGlyphs" >4.8</text>
<line x1="399.2" y1="230.6" x2="399.2" y2="232.6" stroke="#444" stroke-width="0.6" />
<text x="399.2" y="239.1" font-family="'DejaVu Sans','Liberation Sans',sans-serif" font-size="5.9" fill="#1a1a1a" text-anchor="middle" textLength="2.9" lengthAdjust="spacingAndGlyphs" >0</text>
<line x1="435.03" y1="230.6" x2="435.03" y2="232.6" stroke="#444" stroke-width="0.6" />
<text x="435.03" y="239.1" font-family="'DejaVu Sans','Liberation Sans',sans-serif" font-size="5.9" fill="#1a1a1a" text-anchor="middle" textLength="5.8" lengthAdjust="spacingAndGlyphs" >50</text>
<line x1="470.86" y1="230.6" x2="470.86" y2="232.6" stroke="#444" stroke-width="0.6" />
<text x="470.86" y="239.1" font-family="'DejaVu Sans','Liberation Sans',sans-serif" font-size="5.9" fill="#1a1a1a" text-anchor="middle" textLength="8.7" lengthAdjust="spacingAndGlyphs" >100</text>
<line x1="506.69" y1="230.6" x2="506.69" y2="232.6" stroke="#444" stroke-width="0.6" />
<text x="506.69" y="239.1" font-family="'DejaVu Sans','Liberation Sans',sans-serif" font-size="5.9" fill="#1a1a1a" text-anchor="middle" textLength="8.7" lengthAdjust="spacingAndGlyphs" >150</text>
<line x1="542.52" y1="230.6" x2="542.52" y2="232.6" stroke="#444" stroke-width="0.6" />
<text x="542.52" y="239.1" font-family="'DejaVu Sans','Liberation Sans',sans-serif" font-size="5.9" fill="#1a1a1a" text-anchor="middle" textLength="8.7" lengthAdjust="spacingAndGlyphs" >200</text>
<line x1="578.35" y1="230.6" x2="578.35" y2="232.6" stroke="#444" stroke-width="0.6" />
<text x="578.35" y="239.1" font-family="'DejaVu Sans','Liberation Sans',sans-serif" font-size="5.9" fill="#1a1a1a" text-anchor="middle" textLength="8.7" lengthAdjust="spacingAndGlyphs" >250</text>
<line x1="614.18" y1="230.6" x2="614.18" y2="232.6" stroke="#444" stroke-width="0.6" />
<text x="614.18" y="239.1" font-family="'DejaVu Sans','Liberation Sans',sans-serif" font-size="5.9" fill="#1a1a1a" text-anchor="middle" textLength="8.7" lengthAdjust="spacingAndGlyphs" >300</text>
<line x1="650.01" y1="230.6" x2="650.01" y2="232.6" stroke="#444" stroke-width="0.6" />
<text x="650.01" y="239.1" font-family="'DejaVu Sans','Liberation Sans',sans-serif" font-size="5.9" fill="#1a1a1a" text-anchor="middle" textLength="8.7" lengthAdjust="spacingAndGlyphs" >350</text>
<text x="385.7" y="125.3" font-family="'DejaVu Sans','Liberation Sans',sans-serif" font-size="7.5" fill="#1a1a1a" text-anchor="middle" textLength="39.2" lengthAdjust="spacingAndGlyphs" transform="rotate(-90 385.7 125.3)" >RMSF (Å)</text>
<text x="539" y="250" font-family="'DejaVu Sans','Liberation Sans',sans-serif" font-size="8.7" fill="#1a1a1a" text-anchor="middle" textLength="51.5" lengthAdjust="spacingAndGlyphs" >Residue Index</text>
<text x="375.3" y="19.6" font-family="'Liberation Sans','DejaVu Sans',sans-serif" font-size="13.6" fill="#111" text-anchor="start" >(b)</text>
<rect x="524.6" y="1.3" width="27.9" height="7.1" fill="#fff" stroke="#d0d0d0" stroke-width="0.5" rx="0.8"/>
<rect x="524.8" y="2.3" width="7.6" height="4" fill="#4e7b98" stroke="none" stroke-width="1" />
<text x="532.5" y="6.4" font-family="'DejaVu Sans','Liberation Sans',sans-serif" font-size="5.6" fill="#111" text-anchor="start" textLength="19.4" lengthAdjust="spacingAndGlyphs" >C-alphas</text>
<polyline points="48.3,346.54 56.6,340.15 64.91,333.76 73.21,333.76 81.51,340.79 89.82,347.18 98.12,325.45 106.42,327.37 114.72,337.59 123.03,341.43 131.33,344.62 139.63,345.9 147.94,311.39 156.24,302.45 164.54,309.48 172.85,308.2 181.15,303.09 189.45,297.33 197.75,297.33 206.06,301.81 214.36,307.56 222.66,288.64 230.97,346.54 239.27,346.15 247.57,342.06 255.88,344.62 264.18,341.43 272.48,336.95 280.78,335.04 289.09,336.31 297.39,341.43 305.69,329.28 314,324.17 322.3,325.45" fill="none" stroke="#a72a56" stroke-width="0.9" stroke-linejoin="miter" stroke-miterlimit="3" />
<line x1="40.6" y1="286" x2="330.4" y2="286" stroke="#bdbdbd" stroke-width="1.3" />
<line x1="40.6" y1="286" x2="40.6" y2="421.3" stroke="#8a8a8a" stroke-width="1" />
<line x1="330.4" y1="286" x2="330.4" y2="421.3" stroke="#707070" stroke-width="1" />
<line x1="40.1" y1="421.3" x2="330.9" y2="421.3" stroke="#666" stroke-width="1" />
<line x1="38.6" y1="421.3" x2="40.6" y2="421.3" stroke="#555" stroke-width="0.6" />
<text x="37" y="423.3" font-family="'DejaVu Sans','Liberation Sans',sans-serif" font-size="5.7" fill="#111" text-anchor="end" textLength="3" lengthAdjust="spacingAndGlyphs" >0</text>
<line x1="38.6" y1="395.74" x2="40.6" y2="395.74" stroke="#555" stroke-width="0.6" />
<text x="37" y="397.74" font-family="'DejaVu Sans','Liberation Sans',sans-serif" font-size="5.7" fill="#111" text-anchor="end" textLength="3" lengthAdjust="spacingAndGlyphs" >2</text>
<line x1="38.6" y1="370.18" x2="40.6" y2="370.18" stroke="#555" stroke-width="0.6" />
<text x="37" y="372.18" font-family="'DejaVu Sans','Liberation Sans',sans-serif" font-size="5.7" fill="#111" text-anchor="end" textLength="3" lengthAdjust="spacingAndGlyphs" >4</text>
<line x1="38.6" y1="344.62" x2="40.6" y2="344.62" stroke="#555" stroke-width="0.6" />
<text x="37" y="346.62" font-family="'DejaVu Sans','Liberation Sans',sans-serif" font-size="5.7" fill="#111" text-anchor="end" textLength="3" lengthAdjust="spacingAndGlyphs" >6</text>
<line x1="38.6" y1="319.06" x2="40.6" y2="319.06" stroke="#555" stroke-width="0.6" />
<text x="37" y="321.06" font-family="'DejaVu Sans','Liberation Sans',sans-serif" font-size="5.7" fill="#111" text-anchor="end" textLength="3" lengthAdjust="spacingAndGlyphs" >8</text>
<line x1="38.6" y1="293.5" x2="40.6" y2="293.5" stroke="#555" stroke-width="0.6" />
<text x="37" y="295.5" font-family="'DejaVu Sans','Liberation Sans',sans-serif" font-size="5.7" fill="#111" text-anchor="end" textLength="6" lengthAdjust="spacingAndGlyphs" >10</text>
<line x1="48.3" y1="421.3" x2="48.3" y2="423.1" stroke="#555" stroke-width="0.6" />
<text x="50.2" y="424.6" font-family="'DejaVu Sans','Liberation Sans',sans-serif" font-size="5.3" fill="#111" text-anchor="end" textLength="3.3" lengthAdjust="spacingAndGlyphs" transform="rotate(-90 50.2 424.6)" >1</text>
<line x1="56.6" y1="421.3" x2="56.6" y2="423.1" stroke="#555" stroke-width="0.6" />
<text x="58.5" y="424.6" font-family="'DejaVu Sans','Liberation Sans',sans-serif" font-size="5.3" fill="#111" text-anchor="end" textLength="3.3" lengthAdjust="spacingAndGlyphs" transform="rotate(-90 58.5 424.6)" >2</text>
<line x1="64.91" y1="421.3" x2="64.91" y2="423.1" stroke="#555" stroke-width="0.6" />
<text x="66.81" y="424.6" font-family="'DejaVu Sans','Liberation Sans',sans-serif" font-size="5.3" fill="#111" text-anchor="end" textLength="3.3" lengthAdjust="spacingAndGlyphs" transform="rotate(-90 66.81 424.6)" >3</text>
<line x1="73.21" y1="421.3" x2="73.21" y2="423.1" stroke="#555" stroke-width="0.6" />
<text x="75.11" y="424.6" font-family="'DejaVu Sans','Liberation Sans',sans-serif" font-size="5.3" fill="#111" text-anchor="end" textLength="3.3" lengthAdjust="spacingAndGlyphs" transform="rotate(-90 75.11 424.6)" >4</text>
<line x1="81.51" y1="421.3" x2="81.51" y2="423.1" stroke="#555" stroke-width="0.6" />
<text x="83.41" y="424.6" font-family="'DejaVu Sans','Liberation Sans',sans-serif" font-size="5.3" fill="#111" text-anchor="end" textLength="3.3" lengthAdjust="spacingAndGlyphs" transform="rotate(-90 83.41 424.6)" >5</text>
<line x1="89.82" y1="421.3" x2="89.82" y2="423.1" stroke="#555" stroke-width="0.6" />
<text x="91.72" y="424.6" font-family="'DejaVu Sans','Liberation Sans',sans-serif" font-size="5.3" fill="#111" text-anchor="end" textLength="3.3" lengthAdjust="spacingAndGlyphs" transform="rotate(-90 91.72 424.6)" >6</text>
<line x1="98.12" y1="421.3" x2="98.12" y2="423.1" stroke="#555" stroke-width="0.6" />
<text x="100.02" y="424.6" font-family="'DejaVu Sans','Liberation Sans',sans-serif" font-size="5.3" fill="#111" text-anchor="end" textLength="3.3" lengthAdjust="spacingAndGlyphs" transform="rotate(-90 100.02 424.6)" >7</text>
<line x1="106.42" y1="421.3" x2="106.42" y2="423.1" stroke="#555" stroke-width="0.6" />
<text x="108.32" y="424.6" font-family="'DejaVu Sans','Liberation Sans',sans-serif" font-size="5.3" fill="#111" text-anchor="end" textLength="3.3" lengthAdjust="spacingAndGlyphs" transform="rotate(-90 108.32 424.6)" >8</text>
<line x1="114.72" y1="421.3" x2="114.72" y2="423.1" stroke="#555" stroke-width="0.6" />
<text x="116.62" y="424.6" font-family="'DejaVu Sans','Liberation Sans',sans-serif" font-size="5.3" fill="#111" text-anchor="end" textLength="3.3" lengthAdjust="spacingAndGlyphs" transform="rotate(-90 116.62 424.6)" >9</text>
<line x1="123.03" y1="421.3" x2="123.03" y2="423.1" stroke="#555" stroke-width="0.6" />
<text x="124.93" y="424.6" font-family="'DejaVu Sans','Liberation Sans',sans-serif" font-size="5.3" fill="#111" text-anchor="end" textLength="6.6" lengthAdjust="spacingAndGlyphs" transform="rotate(-90 124.93 424.6)" >10</text>
<line x1="131.33" y1="421.3" x2="131.33" y2="423.1" stroke="#555" stroke-width="0.6" />
<text x="133.23" y="424.6" font-family="'DejaVu Sans','Liberation Sans',sans-serif" font-size="5.3" fill="#111" text-anchor="end" textLength="6.6" lengthAdjust="spacingAndGlyphs" transform="rotate(-90 133.23 424.6)" >11</text>
<line x1="139.63" y1="421.3" x2="139.63" y2="423.1" stroke="#555" stroke-width="0.6" />
<text x="141.53" y="424.6" font-family="'DejaVu Sans','Liberation Sans',sans-serif" font-size="5.3" fill="#111" text-anchor="end" textLength="6.6" lengthAdjust="spacingAndGlyphs" transform="rotate(-90 141.53 424.6)" >12</text>
<line x1="147.94" y1="421.3" x2="147.94" y2="423.1" stroke="#555" stroke-width="0.6" />
<text x="149.84" y="424.6" font-family="'DejaVu Sans','Liberation Sans',sans-serif" font-size="5.3" fill="#111" text-anchor="end" textLength="6.6" lengthAdjust="spacingAndGlyphs" transform="rotate(-90 149.84 424.6)" >13</text>
<line x1="156.24" y1="421.3" x2="156.24" y2="423.1" stroke="#555" stroke-width="0.6" />
<text x="158.14" y="424.6" font-family="'DejaVu Sans','Liberation Sans',sans-serif" font-size="5.3" fill="#111" text-anchor="end" textLength="6.6" lengthAdjust="spacingAndGlyphs" transform="rotate(-90 158.14 424.6)" >14</text>
<line x1="164.54" y1="421.3" x2="164.54" y2="423.1" stroke="#555" stroke-width="0.6" />
<text x="166.44" y="424.6" font-family="'DejaVu Sans','Liberation Sans',sans-serif" font-size="5.3" fill="#111" text-anchor="end" textLength="6.6" lengthAdjust="spacingAndGlyphs" transform="rotate(-90 166.44 424.6)" >15</text>
<line x1="172.85" y1="421.3" x2="172.85" y2="423.1" stroke="#555" stroke-width="0.6" />
<text x="174.75" y="424.6" font-family="'DejaVu Sans','Liberation Sans',sans-serif" font-size="5.3" fill="#111" text-anchor="end" textLength="6.6" lengthAdjust="spacingAndGlyphs" transform="rotate(-90 174.75 424.6)" >16</text>
<line x1="181.15" y1="421.3" x2="181.15" y2="423.1" stroke="#555" stroke-width="0.6" />
<text x="183.05" y="424.6" font-family="'DejaVu Sans','Liberation Sans',sans-serif" font-size="5.3" fill="#111" text-anchor="end" textLength="6.6" lengthAdjust="spacingAndGlyphs" transform="rotate(-90 183.05 424.6)" >17</text>
<line x1="189.45" y1="421.3" x2="189.45" y2="423.1" stroke="#555" stroke-width="0.6" />
<text x="191.35" y="424.6" font-family="'DejaVu Sans','Liberation Sans',sans-serif" font-size="5.3" fill="#111" text-anchor="end" textLength="6.6" lengthAdjust="spacingAndGlyphs" transform="rotate(-90 191.35 424.6)" >18</text>
<line x1="197.75" y1="421.3" x2="197.75" y2="423.1" stroke="#555" stroke-width="0.6" />
<text x="199.65" y="424.6" font-family="'DejaVu Sans','Liberation Sans',sans-serif" font-size="5.3" fill="#111" text-anchor="end" textLength="6.6" lengthAdjust="spacingAndGlyphs" transform="rotate(-90 199.65 424.6)" >19</text>
<line x1="206.06" y1="421.3" x2="206.06" y2="423.1" stroke="#555" stroke-width="0.6" />
<text x="207.96" y="424.6" font-family="'DejaVu Sans','Liberation Sans',sans-serif" font-size="5.3" fill="#111" text-anchor="end" textLength="6.6" lengthAdjust="spacingAndGlyphs" transform="rotate(-90 207.96 424.6)" >20</text>
<line x1="214.36" y1="421.3" x2="214.36" y2="423.1" stroke="#555" stroke-width="0.6" />
<text x="216.26" y="424.6" font-family="'DejaVu Sans','Liberation Sans',sans-serif" font-size="5.3" fill="#111" text-anchor="end" textLength="6.6" lengthAdjust="spacingAndGlyphs" transform="rotate(-90 216.26 424.6)" >21</text>
<line x1="222.66" y1="421.3" x2="222.66" y2="423.1" stroke="#555" stroke-width="0.6" />
<text x="224.56" y="424.6" font-family="'DejaVu Sans','Liberation Sans',sans-serif" font-size="5.3" fill="#111" text-anchor="end" textLength="6.6" lengthAdjust="spacingAndGlyphs" transform="rotate(-90 224.56 424.6)" >22</text>
<line x1="230.97" y1="421.3" x2="230.97" y2="423.1" stroke="#555" stroke-width="0.6" />
<text x="232.87" y="424.6" font-family="'DejaVu Sans','Liberation Sans',sans-serif" font-size="5.3" fill="#111" text-anchor="end" textLength="6.6" lengthAdjust="spacingAndGlyphs" transform="rotate(-90 232.87 424.6)" >23</text>
<line x1="239.27" y1="421.3" x2="239.27" y2="423.1" stroke="#555" stroke-width="0.6" />
<text x="241.17" y="424.6" font-family="'DejaVu Sans','Liberation Sans',sans-serif" font-size="5.3" fill="#111" text-anchor="end" textLength="6.6" lengthAdjust="spacingAndGlyphs" transform="rotate(-90 241.17 424.6)" >24</text>
<line x1="247.57" y1="421.3" x2="247.57" y2="423.1" stroke="#555" stroke-width="0.6" />
<text x="249.47" y="424.6" font-family="'DejaVu Sans','Liberation Sans',sans-serif" font-size="5.3" fill="#111" text-anchor="end" textLength="6.6" lengthAdjust="spacingAndGlyphs" transform="rotate(-90 249.47 424.6)" >25</text>
<line x1="255.88" y1="421.3" x2="255.88" y2="423.1" stroke="#555" stroke-width="0.6" />
<text x="257.78" y="424.6" font-family="'DejaVu Sans','Liberation Sans',sans-serif" font-size="5.3" fill="#111" text-anchor="end" textLength="6.6" lengthAdjust="spacingAndGlyphs" transform="rotate(-90 257.78 424.6)" >26</text>
<line x1="264.18" y1="421.3" x2="264.18" y2="423.1" stroke="#555" stroke-width="0.6" />
<text x="266.08" y="424.6" font-family="'DejaVu Sans','Liberation Sans',sans-serif" font-size="5.3" fill="#111" text-anchor="end" textLength="6.6" lengthAdjust="spacingAndGlyphs" transform="rotate(-90 266.08 424.6)" >27</text>
<line x1="272.48" y1="421.3" x2="272.48" y2="423.1" stroke="#555" stroke-width="0.6" />
<text x="274.38" y="424.6" font-family="'DejaVu Sans','Liberation Sans',sans-serif" font-size="5.3" fill="#111" text-anchor="end" textLength="6.6" lengthAdjust="spacingAndGlyphs" transform="rotate(-90 274.38 424.6)" >28</text>
<line x1="280.78" y1="421.3" x2="280.78" y2="423.1" stroke="#555" stroke-width="0.6" />
<text x="282.68" y="424.6" font-family="'DejaVu Sans','Liberation Sans',sans-serif" font-size="5.3" fill="#111" text-anchor="end" textLength="6.6" lengthAdjust="spacingAndGlyphs" transform="rotate(-90 282.68 424.6)" >29</text>
<line x1="289.09" y1="421.3" x2="289.09" y2="423.1" stroke="#555" stroke-width="0.6" />
<text x="290.99" y="424.6" font-family="'DejaVu Sans','Liberation Sans',sans-serif" font-size="5.3" fill="#111" text-anchor="end" textLength="6.6" lengthAdjust="spacingAndGlyphs" transform="rotate(-90 290.99 424.6)" >30</text>
<line x1="297.39" y1="421.3" x2="297.39" y2="423.1" stroke="#555" stroke-width="0.6" />
<text x="299.29" y="424.6" font-family="'DejaVu Sans','Liberation Sans',sans-serif" font-size="5.3" fill="#111" text-anchor="end" textLength="6.6" lengthAdjust="spacingAndGlyphs" transform="rotate(-90 299.29 424.6)" >31</text>
<line x1="305.69" y1="421.3" x2="305.69" y2="423.1" stroke="#555" stroke-width="0.6" />
<text x="307.59" y="424.6" font-family="'DejaVu Sans','Liberation Sans',sans-serif" font-size="5.3" fill="#111" text-anchor="end" textLength="6.6" lengthAdjust="spacingAndGlyphs" transform="rotate(-90 307.59 424.6)" >32</text>
<line x1="314" y1="421.3" x2="314" y2="423.1" stroke="#555" stroke-width="0.6" />
<text x="315.9" y="424.6" font-family="'DejaVu Sans','Liberation Sans',sans-serif" font-size="5.3" fill="#111" text-anchor="end" textLength="6.6" lengthAdjust="spacingAndGlyphs" transform="rotate(-90 315.9 424.6)" >33</text>
<line x1="322.3" y1="421.3" x2="322.3" y2="423.1" stroke="#555" stroke-width="0.6" />
<text x="324.2" y="424.6" font-family="'DejaVu Sans','Liberation Sans',sans-serif" font-size="5.3" fill="#111" text-anchor="end" textLength="6.6" lengthAdjust="spacingAndGlyphs" transform="rotate(-90 324.2 424.6)" >34</text>
<text x="27.8" y="353.5" font-family="'DejaVu Sans','Liberation Sans',sans-serif" font-size="5.4" fill="#111" text-anchor="middle" textLength="27" lengthAdjust="spacingAndGlyphs" transform="rotate(-90 27.8 353.5)" >RMSF (Å)</text>
<text x="185.3" y="437.4" font-family="'DejaVu Sans','Liberation Sans',sans-serif" font-size="6" fill="#111" text-anchor="middle" textLength="32.6" lengthAdjust="spacingAndGlyphs" >Atom Index</text>
<text x="18.7" y="279.3" font-family="'Liberation Sans','DejaVu Sans',sans-serif" font-size="13.6" fill="#111" text-anchor="start" >(c)</text>
<rect x="164.9" y="272.6" width="39.8" height="6.6" fill="#fff" stroke="#ccc" stroke-width="0.5" rx="0.8"/>
<rect x="165.6" y="273.9" width="7.3" height="3.9" fill="#a72a56" stroke="none" stroke-width="1" />
<text x="173.1" y="277.7" font-family="'DejaVu Sans','Liberation Sans',sans-serif" font-size="5.4" fill="#111" text-anchor="start" textLength="30.8" lengthAdjust="spacingAndGlyphs" >Fit on Protein</text>
<clipPath id="clipD"><rect x="415.5" y="286.1" width="266.79999999999995" height="132.29999999999995"/></clipPath>
<g clip-path="url(#clipD)">
<polygon points="425.82,417.95 426.1,326.71 426.92,326.71 427.33,417.95" fill="#35b6e2" />
<polygon points="428.97,417.95 429.11,294.66 429.66,293.84 431.03,293.84 431.58,295.21 431.85,401.51 432.4,409.73 433.22,417.95" fill="#ef5a3a" />
<polygon points="433.49,417.95 433.77,300.14 434.59,294.66 435.96,292.47 438.42,291.92 441.16,292.19 442.53,293.29 443.36,297.4 443.63,352.19 444.18,393.29 445,417.95" fill="#ef5a3a" />
<polygon points="449.66,417.95 449.93,316.03 450.75,315.21 451.58,308.36 452.4,303.42 452.95,305.62 453.49,352.19 454.32,379.59 454.86,396.03 455.41,398.77 456.23,417.95" fill="#ef5a3a" />
<polygon points="474.59,417.95 474.86,294.66 475.68,293.01 477.05,292.19 480.89,291.92 485,291.92 487.47,292.19 488.29,297.4 489.11,319.32 490.21,352.19 491.3,390.55 491.85,412.47 493.22,417.95" fill="#ef5a3a" />
<polygon points="495.68,417.95 496.23,352.19 496.78,300.14 497.6,294.11 498.42,292.47 499.79,292.74 500.62,295.21 501.16,297.4 501.44,303.42 501.99,304.25 502.26,352.19 502.81,401.51 503.36,417.95" fill="#ef5a3a" />
<polygon points="521.71,417.95 521.99,294.11 522.53,293.29 524.73,293.29 525.14,294.11 525.27,417.95" fill="#35b6e2" />
<polygon points="528.7,417.95 528.84,294.11 529.38,293.29 531.85,293.29 532.26,294.11 532.4,417.95" fill="#35b6e2" />
<polygon points="542.53,417.95 543.08,406.99 543.63,393.29 544.18,374.11 544.73,371.92 545.27,371.92 545.82,379.59 546.37,390.55 546.92,406.99 547.74,416.58 548.56,417.95" fill="#ef5a3a" />
<polygon points="555.68,417.95 556.51,379.59 557.33,338.49 557.88,295.21 558.7,293.29 560.62,292.74 561.44,294.11 561.99,297.4 562.81,311.1 563.36,322.05 563.63,323.7 564.18,311.1 564.73,296.03 565.55,293.29 567.47,292.47 570.21,291.92 571.58,293.01 572.4,296.03 573.22,304.25 573.77,324.79 574.04,379.59 574.32,417.95" fill="#ef5a3a" />
<polygon points="574.79,418.02 575.21,384.56 575.63,363.65 576.25,321.82 576.67,307.19 577.51,303 578.14,303.84 578.35,342.74 578.55,384.56 578.87,418.02" fill="#ef5a3a" />
<polygon points="586.92,418.02 587.55,388.74 588.17,374.1 588.8,342.74 589.22,314.5 591.31,314.09 591.52,332.28 591.94,365.74 593.19,366.37 593.61,384.56 594.24,409.65 595.49,418.02" fill="#ef5a3a" />
<polygon points="606.37,418.02 606.79,405.47 606.99,389.79 607.62,388.74 608.67,389.16 608.88,405.47 609.19,418.02" fill="#ef5a3a" />
<polygon points="612.64,418.02 613.06,321.82 613.48,298.82 614.31,294.22 615.78,292.97 617.87,292.13 622.05,292.13 623.1,293.59 623.72,297.77 624.56,299.87 625.08,300.91 625.29,342.74 625.71,418.02" fill="#ef5a3a" />
<polygon points="629.79,418.02 630.63,384.56 631.25,325.59 631.88,384.56 632.93,418.02" fill="#35b6e2" />
<polygon points="638.78,418.02 639.83,384.56 640.45,325.59 641.08,384.56 641.71,413.84 642.34,418.02" fill="#35b6e2" />
<polygon points="653.63,418.02 654.05,409.65 654.46,405.05 655.72,404.42 656.14,407.56 656.56,415.93 656.87,418.02" fill="#ef5a3a" />
<polygon points="657.6,418.02 658.23,415.93 659.27,415.09 660.32,416.34 660.74,418.02" fill="#ef5a3a" />
<polygon points="660.74,418.02 661.37,363.65 661.78,326.42 662.62,326.42 662.83,363.65 663.25,418.02" fill="#35b6e2" />
<polygon points="670.15,418.02 670.36,309.28 671.19,307.6 672.03,306.77 672.66,298.82 673.49,293.59 674.54,292.13 676.63,292.13 677.47,294.64 678.3,299.87 679.14,304.05 679.77,305.09 680.08,418.02" fill="#ef5a3a" />
</g>
<rect x="415.5" y="286.1" width="266.8" height="132.3" fill="none" stroke="#555" stroke-width="1" />
<line x1="412.9" y1="418.2" x2="415.5" y2="418.2" stroke="#222" stroke-width="0.8" />
<text x="412.5" y="421.6" font-family="'DejaVu Sans','Liberation Sans',sans-serif" font-size="9.4" fill="#111" text-anchor="end" textLength="2.95" lengthAdjust="spacingAndGlyphs" stroke="#111" stroke-width="0.15">0</text>
<line x1="412.9" y1="386.85" x2="415.5" y2="386.85" stroke="#222" stroke-width="0.8" />
<text x="412.5" y="390.25" font-family="'DejaVu Sans','Liberation Sans',sans-serif" font-size="9.4" fill="#111" text-anchor="end" textLength="5.9" lengthAdjust="spacingAndGlyphs" stroke="#111" stroke-width="0.15">25</text>
<line x1="412.9" y1="355.5" x2="415.5" y2="355.5" stroke="#222" stroke-width="0.8" />
<text x="412.5" y="358.9" font-family="'DejaVu Sans','Liberation Sans',sans-serif" font-size="9.4" fill="#111" text-anchor="end" textLength="5.9" lengthAdjust="spacingAndGlyphs" stroke="#111" stroke-width="0.15">50</text>
<line x1="412.9" y1="324.15" x2="415.5" y2="324.15" stroke="#222" stroke-width="0.8" />
<text x="412.5" y="327.55" font-family="'DejaVu Sans','Liberation Sans',sans-serif" font-size="9.4" fill="#111" text-anchor="end" textLength="5.9" lengthAdjust="spacingAndGlyphs" stroke="#111" stroke-width="0.15">75</text>
<line x1="412.9" y1="292.8" x2="415.5" y2="292.8" stroke="#222" stroke-width="0.8" />
<text x="412.5" y="296.2" font-family="'DejaVu Sans','Liberation Sans',sans-serif" font-size="9.4" fill="#111" text-anchor="end" textLength="8.85" lengthAdjust="spacingAndGlyphs" stroke="#111" stroke-width="0.15">100</text>
<line x1="415.3" y1="418.4" x2="415.3" y2="421.6" stroke="#222" stroke-width="0.8" />
<text x="415.3" y="434.5" font-family="'DejaVu Sans','Liberation Sans',sans-serif" font-size="10.3" fill="#111" text-anchor="middle" textLength="2.75" lengthAdjust="spacingAndGlyphs" stroke="#111" stroke-width="0.15">0</text>
<line x1="449.45" y1="418.4" x2="449.45" y2="421.6" stroke="#222" stroke-width="0.8" />
<text x="449.45" y="434.5" font-family="'DejaVu Sans','Liberation Sans',sans-serif" font-size="10.3" fill="#111" text-anchor="middle" textLength="5.5" lengthAdjust="spacingAndGlyphs" stroke="#111" stroke-width="0.15">50</text>
<line x1="483.6" y1="418.4" x2="483.6" y2="421.6" stroke="#222" stroke-width="0.8" />
<text x="483.6" y="434.5" font-family="'DejaVu Sans','Liberation Sans',sans-serif" font-size="10.3" fill="#111" text-anchor="middle" textLength="8.25" lengthAdjust="spacingAndGlyphs" stroke="#111" stroke-width="0.15">100</text>
<line x1="517.75" y1="418.4" x2="517.75" y2="421.6" stroke="#222" stroke-width="0.8" />
<text x="517.75" y="434.5" font-family="'DejaVu Sans','Liberation Sans',sans-serif" font-size="10.3" fill="#111" text-anchor="middle" textLength="8.25" lengthAdjust="spacingAndGlyphs" stroke="#111" stroke-width="0.15">150</text>
<line x1="551.9" y1="418.4" x2="551.9" y2="421.6" stroke="#222" stroke-width="0.8" />
<text x="551.9" y="434.5" font-family="'DejaVu Sans','Liberation Sans',sans-serif" font-size="10.3" fill="#111" text-anchor="middle" textLength="8.25" lengthAdjust="spacingAndGlyphs" stroke="#111" stroke-width="0.15">200</text>
<line x1="586.05" y1="418.4" x2="586.05" y2="421.6" stroke="#222" stroke-width="0.8" />
<text x="586.05" y="434.5" font-family="'DejaVu Sans','Liberation Sans',sans-serif" font-size="10.3" fill="#111" text-anchor="middle" textLength="8.25" lengthAdjust="spacingAndGlyphs" stroke="#111" stroke-width="0.15">250</text>
<line x1="620.2" y1="418.4" x2="620.2" y2="421.6" stroke="#222" stroke-width="0.8" />
<text x="620.2" y="434.5" font-family="'DejaVu Sans','Liberation Sans',sans-serif" font-size="10.3" fill="#111" text-anchor="middle" textLength="8.25" lengthAdjust="spacingAndGlyphs" stroke="#111" stroke-width="0.15">300</text>
<line x1="654.35" y1="418.4" x2="654.35" y2="421.6" stroke="#222" stroke-width="0.8" />
<text x="654.35" y="434.5" font-family="'DejaVu Sans','Liberation Sans',sans-serif" font-size="10.3" fill="#111" text-anchor="middle" textLength="8.25" lengthAdjust="spacingAndGlyphs" stroke="#111" stroke-width="0.15">350</text>
<text x="401.8" y="352.2" font-family="'DejaVu Sans','Liberation Sans',sans-serif" font-size="6.8" fill="#222" text-anchor="middle" textLength="41" lengthAdjust="spacingAndGlyphs" transform="rotate(-90 401.8 352.2)" >% SSE</text>
<text x="548.3" y="452" font-family="'DejaVu Sans','Liberation Sans',sans-serif" font-size="12" fill="#111" text-anchor="middle" textLength="37.1" lengthAdjust="spacingAndGlyphs" >Residue Index</text>
<text x="386.6" y="278.2" font-family="'Liberation Sans','DejaVu Sans',sans-serif" font-size="13.6" fill="#111" text-anchor="start" >(d)</text>
<defs>
<radialGradient id="gGreen" cx="0.42" cy="0.36" r="0.66" fx="0.40" fy="0.32"><stop offset="0" stop-color="#f6fdd2"/><stop offset="0.55" stop-color="#c0e85a"/><stop offset="1" stop-color="#94c624"/></radialGradient>
<radialGradient id="gOlive" cx="0.42" cy="0.36" r="0.66" fx="0.40" fy="0.32"><stop offset="0" stop-color="#eef6b8"/><stop offset="0.55" stop-color="#aad030"/><stop offset="1" stop-color="#7da512"/></radialGradient>
<radialGradient id="gCyan" cx="0.42" cy="0.36" r="0.66" fx="0.40" fy="0.32"><stop offset="0" stop-color="#f4fcff"/><stop offset="0.55" stop-color="#a0e0f6"/><stop offset="1" stop-color="#58b8de"/></radialGradient>
<radialGradient id="gBlue" cx="0.42" cy="0.36" r="0.66" fx="0.40" fy="0.32"><stop offset="0" stop-color="#e4e4ff"/><stop offset="0.55" stop-color="#8080f4"/><stop offset="1" stop-color="#4040d6"/></radialGradient>
<radialGradient id="gOrange" cx="0.42" cy="0.36" r="0.66" fx="0.40" fy="0.32"><stop offset="0" stop-color="#ffdcc0"/><stop offset="0.55" stop-color="#ee7c38"/><stop offset="1" stop-color="#c85014"/></radialGradient>
<radialGradient id="gGray" cx="0.42" cy="0.36" r="0.66" fx="0.40" fy="0.32"><stop offset="0" stop-color="#ffffff"/><stop offset="0.55" stop-color="#e4e4e4"/><stop offset="1" stop-color="#bdbdbd"/></radialGradient>
<filter id="blurE" x="-50%" y="-50%" width="200%" height="200%"><feGaussianBlur stdDeviation="1.3"/></filter>
<filter id="shE" x="-50%" y="-50%" width="200%" height="200%"><feGaussianBlur stdDeviation="0.7"/></filter>
</defs>
<circle cx="66.9" cy="570.8" r="3.3" fill="#b8b8b8" opacity="0.55" filter="url(#blurE)"/>
<circle cx="81.6" cy="578.2" r="3.3" fill="#b8b8b8" opacity="0.55" filter="url(#blurE)"/>
<circle cx="66.9" cy="602.4" r="3.3" fill="#b8b8b8" opacity="0.55" filter="url(#blurE)"/>
<circle cx="52" cy="578.2" r="3.3" fill="#b8b8b8" opacity="0.55" filter="url(#blurE)"/>
<circle cx="155" cy="601" r="3.3" fill="#b8b8b8" opacity="0.55" filter="url(#blurE)"/>
<circle cx="165.8" cy="550.8" r="3.3" fill="#b8b8b8" opacity="0.55" filter="url(#blurE)"/>
<circle cx="181.6" cy="547.7" r="3.3" fill="#b8b8b8" opacity="0.55" filter="url(#blurE)"/>
<circle cx="159.7" cy="565" r="3.3" fill="#b8b8b8" opacity="0.55" filter="url(#blurE)"/>
<circle cx="193.2" cy="561.7" r="3.3" fill="#b8b8b8" opacity="0.55" filter="url(#blurE)"/>
<circle cx="186" cy="599.6" r="3.3" fill="#b8b8b8" opacity="0.55" filter="url(#blurE)"/>
<circle cx="239.6" cy="579.9" r="3.3" fill="#b8b8b8" opacity="0.55" filter="url(#blurE)"/>
<circle cx="255.6" cy="581" r="3.3" fill="#b8b8b8" opacity="0.55" filter="url(#blurE)"/>
<circle cx="252.8" cy="608.8" r="3.3" fill="#b8b8b8" opacity="0.55" filter="url(#blurE)"/>
<circle cx="237" cy="607.3" r="3.3" fill="#b8b8b8" opacity="0.55" filter="url(#blurE)"/>
<circle cx="278.6" cy="597.8" r="3.3" fill="#b8b8b8" opacity="0.55" filter="url(#blurE)"/>
<line x1="186.4" y1="505.5" x2="182.8" y2="583" stroke="#b4e0b4" stroke-width="0.5" />
<text x="184.2" y="541.8" font-family="'Liberation Sans','DejaVu Sans',sans-serif" font-size="3.4" fill="#b4e0b4" text-anchor="middle" transform="rotate(0 184.2 541.8)" >4%</text>
<line x1="116.4" y1="489.2" x2="182.4" y2="585.3" stroke="#b4e0b4" stroke-width="0.5" />
<line x1="146.7" y1="539.5" x2="243.6" y2="593.7" stroke="#b4e0b4" stroke-width="0.5" />
<line x1="146.7" y1="539.5" x2="174.3" y2="561.4" stroke="#b4e0b4" stroke-width="0.5" />
<circle cx="146.7" cy="539.5" r="0.9" fill="#6cc06c"/>
<polyline points="180.6,581.2 182.4,583.6 184.2,581.2" fill="none" stroke="#b4e0b4" stroke-width="0.5"/>
<line x1="233" y1="556" x2="243.6" y2="593.7" stroke="#b4e0b4" stroke-width="0.5" />
<text x="237" y="571" font-family="'Liberation Sans','DejaVu Sans',sans-serif" font-size="3.4" fill="#b4e0b4" text-anchor="middle" transform="rotate(0 237 571)" >6%</text>
<line x1="226.8" y1="628.5" x2="234" y2="613" stroke="#b4e0b4" stroke-width="0.5" />
<line x1="234" y1="613" x2="243.6" y2="593.7" stroke="#b4e0b4" stroke-width="0.5" />
<text x="232.8" y="608.6" font-family="'Liberation Sans','DejaVu Sans',sans-serif" font-size="3.4" fill="#b4e0b4" text-anchor="middle" transform="rotate(0 232.8 608.6)" >20%</text>
<text x="149.2" y="534.2" font-family="'Liberation Sans','DejaVu Sans',sans-serif" font-size="3.4" fill="#b4e0b4" text-anchor="middle" transform="rotate(0 149.2 534.2)" >3%</text>
<text x="155.5" y="545.8" font-family="'Liberation Sans','DejaVu Sans',sans-serif" font-size="3.4" fill="#b4e0b4" text-anchor="middle" transform="rotate(0 155.5 545.8)" >2%</text>
<circle cx="243.6" cy="593.7" r="0.9" fill="#58b858"/>
<circle cx="186.4" cy="505.8" r="0.8" fill="#7cc87c"/>
<circle cx="233" cy="556.3" r="0.8" fill="#7cc87c"/>
<line x1="203.8" y1="538.4" x2="174.3" y2="561.4" stroke="#f7adad" stroke-width="0.5" />
<line x1="207.1" y1="539.7" x2="182.4" y2="585.3" stroke="#f7adad" stroke-width="0.5" />
<text x="192.7" y="545.8" font-family="'Liberation Sans','DejaVu Sans',sans-serif" font-size="3.4" fill="#f7adad" text-anchor="middle" transform="rotate(0 192.7 545.8)" >13%</text>
<text x="197.3" y="559.2" font-family="'Liberation Sans','DejaVu Sans',sans-serif" font-size="3.4" fill="#f7adad" text-anchor="middle" transform="rotate(0 197.3 559.2)" >6%</text>
<circle cx="174.3" cy="561.4" r="0.8" fill="#ee7a7a"/>
<circle cx="182.4" cy="585.3" r="0.8" fill="#ee7a7a"/>
<line x1="243.5" y1="520" x2="218" y2="571.8" stroke="#f0b0f4" stroke-width="0.5" /><polyline points="218.1,569.2 218,571.8 220,570.14" fill="none" stroke="#f0b0f4" stroke-width="0.5"/>
<line x1="262.5" y1="534" x2="218.8" y2="572.2" stroke="#f0b0f4" stroke-width="0.5" /><polyline points="219.89,569.84 218.8,572.2 221.29,571.44" fill="none" stroke="#f0b0f4" stroke-width="0.5"/>
<line x1="319" y1="547" x2="219" y2="573.6" stroke="#f0b0f4" stroke-width="0.5" /><polyline points="221.02,571.97 219,573.6 221.57,574.01" fill="none" stroke="#f0b0f4" stroke-width="0.5"/>
<line x1="271.6" y1="527.5" x2="308.5" y2="500.3" stroke="#f0b0f4" stroke-width="0.5" /><polyline points="307.22,502.56 308.5,500.3 305.96,500.86" fill="none" stroke="#f0b0f4" stroke-width="0.5"/>
<text x="290.7" y="512.5" font-family="'Liberation Sans','DejaVu Sans',sans-serif" font-size="3.4" fill="#f0b0f4" text-anchor="middle" transform="rotate(0 290.7 512.5)" >3%</text>
<text x="241" y="553" font-family="'Liberation Sans','DejaVu Sans',sans-serif" font-size="3.4" fill="#f0b0f4" text-anchor="middle" transform="rotate(0 241 553)" >3%</text>
<text x="224" y="561" font-family="'Liberation Sans','DejaVu Sans',sans-serif" font-size="3.4" fill="#f0b0f4" text-anchor="middle" transform="rotate(0 224 561)" >3%</text>
<line x1="133.5" y1="541" x2="112.5" y2="573.5" stroke="#f0b0f4" stroke-width="0.5" /><polyline points="112.9,570.93 112.5,573.5 114.68,572.08" fill="none" stroke="#f0b0f4" stroke-width="0.5"/>
<line x1="117.5" y1="556" x2="112.5" y2="573.5" stroke="#f0b0f4" stroke-width="0.5" />
<line x1="124.5" y1="547.5" x2="131.5" y2="540" stroke="#f0b0f4" stroke-width="0.5" /><polyline points="130.66,542.46 131.5,540 129.11,541.01" fill="none" stroke="#f0b0f4" stroke-width="0.5"/>
<text x="115.5" y="564.2" font-family="'Liberation Sans','DejaVu Sans',sans-serif" font-size="3.4" fill="#f0b0f4" text-anchor="middle" transform="rotate(0 115.5 564.2)" >5%</text>
<text x="129" y="541.5" font-family="'Liberation Sans','DejaVu Sans',sans-serif" font-size="3.4" fill="#f0b0f4" text-anchor="middle" transform="rotate(0 129 541.5)" >5%</text>
<line x1="94.2" y1="610.5" x2="90" y2="629.5" stroke="#f0b0f4" stroke-width="0.5" /><polyline points="89.48,626.95 90,629.5 91.55,627.41" fill="none" stroke="#f0b0f4" stroke-width="0.5"/>
<text x="91.5" y="620.5" font-family="'Liberation Sans','DejaVu Sans',sans-serif" font-size="3.4" fill="#f0b0f4" text-anchor="middle" transform="rotate(0 91.5 620.5)" >4%</text>
<line x1="98.5" y1="610.5" x2="106.5" y2="620.5" stroke="#f0b0f4" stroke-width="0.5" /><polyline points="104.19,619.31 106.5,620.5 105.84,617.98" fill="none" stroke="#f0b0f4" stroke-width="0.5"/>
<text x="101.5" y="614.5" font-family="'Liberation Sans','DejaVu Sans',sans-serif" font-size="3.4" fill="#f0b0f4" text-anchor="middle" transform="rotate(0 101.5 614.5)" >16%</text>
<line x1="122.3" y1="610.5" x2="116.3" y2="620" stroke="#f0b0f4" stroke-width="0.5" /><polyline points="116.67,617.43 116.3,620 118.46,618.56" fill="none" stroke="#f0b0f4" stroke-width="0.5"/>
<text x="118" y="614.5" font-family="'Liberation Sans','DejaVu Sans',sans-serif" font-size="3.4" fill="#f0b0f4" text-anchor="middle" transform="rotate(0 118 614.5)" >19%</text>
<line x1="126.8" y1="610.5" x2="133" y2="629" stroke="#f0b0f4" stroke-width="0.5" /><polyline points="131.24,627.09 133,629 133.25,626.41" fill="none" stroke="#f0b0f4" stroke-width="0.5"/>
<text x="129.6" y="620.5" font-family="'Liberation Sans','DejaVu Sans',sans-serif" font-size="3.4" fill="#f0b0f4" text-anchor="middle" transform="rotate(0 129.6 620.5)" >3%</text>
<line x1="110.7" y1="596" x2="111.4" y2="617.8" stroke="#f0b0f4" stroke-width="0.5" />
<text x="110.6" y="603.8" font-family="'Liberation Sans','DejaVu Sans',sans-serif" font-size="3.4" fill="#f0b0f4" text-anchor="middle" transform="rotate(0 110.6 603.8)" >6%</text>
<line x1="112.2" y1="664" x2="111.7" y2="633.2" stroke="#f0b0f4" stroke-width="0.5" /><polyline points="112.8,635.56 111.7,633.2 110.68,635.59" fill="none" stroke="#f0b0f4" stroke-width="0.5"/>
<text x="111.8" y="647.3" font-family="'Liberation Sans','DejaVu Sans',sans-serif" font-size="3.4" fill="#f0b0f4" text-anchor="middle" transform="rotate(0 111.8 647.3)" >6%</text>
<line x1="88" y1="639.5" x2="85.6" y2="662.5" stroke="#f0b0f4" stroke-width="0.5" /><polyline points="84.79,660.03 85.6,662.5 86.9,660.25" fill="none" stroke="#f0b0f4" stroke-width="0.5"/>
<text x="86.5" y="652.5" font-family="'Liberation Sans','DejaVu Sans',sans-serif" font-size="3.4" fill="#f0b0f4" text-anchor="middle" transform="rotate(0 86.5 652.5)" >4%</text>
<line x1="131" y1="637" x2="92.5" y2="666" stroke="#f0b0f4" stroke-width="0.5" /><polyline points="93.76,663.72 92.5,666 95.03,665.42" fill="none" stroke="#f0b0f4" stroke-width="0.5"/>
<text x="109.7" y="652.3" font-family="'Liberation Sans','DejaVu Sans',sans-serif" font-size="3.4" fill="#f0b0f4" text-anchor="middle" transform="rotate(0 109.7 652.3)" >3%</text>
<line x1="130.5" y1="628" x2="120" y2="626" stroke="#f0b0f4" stroke-width="0.5" /><polyline points="122.53,625.4 120,626 122.13,627.49" fill="none" stroke="#f0b0f4" stroke-width="0.5"/>
<line x1="158.5" y1="631.5" x2="133" y2="627.5" stroke="#f0b0f4" stroke-width="0.5" />
<text x="136.5" y="628.5" font-family="'Liberation Sans','DejaVu Sans',sans-serif" font-size="3.4" fill="#f0b0f4" text-anchor="middle" transform="rotate(0 136.5 628.5)" >3%</text>
<line x1="172" y1="625" x2="158.5" y2="631.5" stroke="#f0b0f4" stroke-width="0.5" />
<line x1="168" y1="630" x2="206.5" y2="610.5" stroke="#f0b0f4" stroke-width="0.5" /><polyline points="204.86,612.52 206.5,610.5 203.9,610.63" fill="none" stroke="#f0b0f4" stroke-width="0.5"/>
<text x="186.5" y="619.5" font-family="'Liberation Sans','DejaVu Sans',sans-serif" font-size="3.4" fill="#f0b0f4" text-anchor="middle" transform="rotate(0 186.5 619.5)" >3%</text>
<line x1="200.5" y1="628" x2="208.5" y2="612" stroke="#f0b0f4" stroke-width="0.5" /><polyline points="208.39,614.6 208.5,612 206.49,613.65" fill="none" stroke="#f0b0f4" stroke-width="0.5"/>
<text x="204" y="621" font-family="'Liberation Sans','DejaVu Sans',sans-serif" font-size="3.4" fill="#f0b0f4" text-anchor="middle" transform="rotate(0 204 621)" >3%</text>
<line x1="209.3" y1="667.5" x2="210.7" y2="612.5" stroke="#f0b0f4" stroke-width="0.5" /><polyline points="211.7,614.9 210.7,612.5 209.58,614.85" fill="none" stroke="#f0b0f4" stroke-width="0.5"/>
<text x="209.7" y="639.5" font-family="'Liberation Sans','DejaVu Sans',sans-serif" font-size="3.4" fill="#f0b0f4" text-anchor="middle" transform="rotate(0 209.7 639.5)" >3%</text>
<line x1="250.5" y1="657.5" x2="214.2" y2="611" stroke="#f0b0f4" stroke-width="0.5" /><polyline points="216.5,612.22 214.2,611 214.83,613.52" fill="none" stroke="#f0b0f4" stroke-width="0.5"/>
<text x="234" y="634.5" font-family="'Liberation Sans','DejaVu Sans',sans-serif" font-size="3.4" fill="#f0b0f4" text-anchor="middle" transform="rotate(0 234 634.5)" >3%</text>
<line x1="186.5" y1="665" x2="196" y2="642" stroke="#f0b0f4" stroke-width="0.5" />
<line x1="199" y1="642" x2="207.5" y2="667.5" stroke="#f0b0f4" stroke-width="0.5" /><polyline points="205.74,665.58 207.5,667.5 207.76,664.91" fill="none" stroke="#f0b0f4" stroke-width="0.5"/>
<text x="201.5" y="652.5" font-family="'Liberation Sans','DejaVu Sans',sans-serif" font-size="3.4" fill="#f0b0f4" text-anchor="middle" transform="rotate(0 201.5 652.5)" >3%</text>
<line x1="255.3" y1="666.5" x2="259" y2="692" stroke="#f0b0f4" stroke-width="0.5" />
<text x="257.5" y="690" font-family="'Liberation Sans','DejaVu Sans',sans-serif" font-size="3.4" fill="#f0b0f4" text-anchor="middle" transform="rotate(0 257.5 690)" >4%</text>
<line x1="66.9" y1="570.8" x2="81.6" y2="578.2" stroke="#161616" stroke-width="0.9" stroke-linecap="round"/>
<line x1="81.6" y1="578.2" x2="81.6" y2="594.4" stroke="#161616" stroke-width="0.9" stroke-linecap="round"/>
<line x1="81.6" y1="594.4" x2="66.9" y2="602.4" stroke="#161616" stroke-width="0.9" stroke-linecap="round"/>
<line x1="66.9" y1="602.4" x2="52" y2="594.4" stroke="#161616" stroke-width="0.9" stroke-linecap="round"/>
<line x1="52" y1="594.4" x2="52" y2="578.2" stroke="#161616" stroke-width="0.9" stroke-linecap="round"/>
<line x1="52" y1="578.2" x2="66.9" y2="570.8" stroke="#161616" stroke-width="0.9" stroke-linecap="round"/>
<line x1="54.32" y1="579.28" x2="66.36" y2="573.3" stroke="#161616" stroke-width="0.9" stroke-linecap="round"/>
<line x1="79.6" y1="579.8" x2="79.6" y2="592.8" stroke="#161616" stroke-width="0.9" stroke-linecap="round"/>
<line x1="66.44" y1="599.88" x2="54.36" y2="593.39" stroke="#161616" stroke-width="0.9" stroke-linecap="round"/>
<line x1="52" y1="594.4" x2="40.45" y2="600.1" stroke="#161616" stroke-width="0.9" stroke-linecap="round"/>
<line x1="26.49" y1="595.87" x2="34.57" y2="600.11" stroke="#161616" stroke-width="0.9" stroke-linecap="round"/>
<line x1="38.3" y1="605.4" x2="38.3" y2="614.9" stroke="#161616" stroke-width="0.9" stroke-linecap="round"/><line x1="36.5" y1="605.4" x2="36.5" y2="614.9" stroke="#161616" stroke-width="0.9" stroke-linecap="round"/>
<line x1="81.6" y1="594.4" x2="92.77" y2="600.06" stroke="#161616" stroke-width="0.9" stroke-linecap="round"/>
<line x1="98.86" y1="600.12" x2="110.7" y2="594.4" stroke="#161616" stroke-width="0.9" stroke-linecap="round"/>
<line x1="109.8" y1="594.4" x2="109.8" y2="582.4" stroke="#161616" stroke-width="0.9" stroke-linecap="round"/><line x1="111.6" y1="594.4" x2="111.6" y2="582.4" stroke="#161616" stroke-width="0.9" stroke-linecap="round"/>
<line x1="110.7" y1="594.4" x2="121.96" y2="600.07" stroke="#161616" stroke-width="0.9" stroke-linecap="round"/>
<line x1="128.08" y1="600.16" x2="136.52" y2="596.24" stroke="#161616" stroke-width="0.9" stroke-linecap="round"/>
<line x1="142.94" y1="596.14" x2="155" y2="601" stroke="#161616" stroke-width="0.9" stroke-linecap="round"/>
<line x1="144.58" y1="594.76" x2="154.6" y2="598.79" stroke="#161616" stroke-width="0.9" stroke-linecap="round"/>
<line x1="155" y1="601" x2="170.7" y2="594.6" stroke="#161616" stroke-width="0.9" stroke-linecap="round"/>
<line x1="170.7" y1="578.1" x2="159.7" y2="565" stroke="#161616" stroke-width="0.9" stroke-linecap="round"/>
<line x1="159.7" y1="565" x2="165.8" y2="550.8" stroke="#161616" stroke-width="0.9" stroke-linecap="round"/>
<line x1="165.8" y1="550.8" x2="181.6" y2="547.7" stroke="#161616" stroke-width="0.9" stroke-linecap="round"/>
<line x1="181.6" y1="547.7" x2="193.2" y2="561.7" stroke="#161616" stroke-width="0.9" stroke-linecap="round"/>
<line x1="193.2" y1="561.7" x2="187.1" y2="575.1" stroke="#161616" stroke-width="0.9" stroke-linecap="round"/>
<line x1="187.1" y1="575.1" x2="170.7" y2="578.1" stroke="#161616" stroke-width="0.9" stroke-linecap="round"/>
<line x1="167.76" y1="552.45" x2="180.41" y2="549.97" stroke="#161616" stroke-width="0.9" stroke-linecap="round"/>
<line x1="190.72" y1="562.33" x2="185.94" y2="572.82" stroke="#161616" stroke-width="0.9" stroke-linecap="round"/>
<line x1="171.2" y1="575.59" x2="162.26" y2="564.94" stroke="#161616" stroke-width="0.9" stroke-linecap="round"/>
<line x1="170.7" y1="594.6" x2="170.7" y2="578.1" stroke="#161616" stroke-width="0.9" stroke-linecap="round"/>
<line x1="170.7" y1="594.6" x2="186" y2="599.6" stroke="#161616" stroke-width="0.9" stroke-linecap="round"/>
<line x1="172.81" y1="593.29" x2="185.07" y2="597.3" stroke="#161616" stroke-width="0.9" stroke-linecap="round"/>
<line x1="186" y1="599.6" x2="193.06" y2="591.34" stroke="#161616" stroke-width="0.9" stroke-linecap="round"/>
<line x1="187.1" y1="575.1" x2="193.51" y2="585.53" stroke="#161616" stroke-width="0.9" stroke-linecap="round"/>
<line x1="199.16" y1="589.14" x2="209.53" y2="590.64" stroke="#161616" stroke-width="0.9" stroke-linecap="round"/>
<line x1="216.08" y1="591.48" x2="229.8" y2="593" stroke="#161616" stroke-width="0.9" stroke-linecap="round"/>
<line x1="212.29" y1="587.41" x2="213.52" y2="578.35" stroke="#161616" stroke-width="0.9" stroke-linecap="round"/><line x1="214.08" y1="587.65" x2="215.31" y2="578.59" stroke="#161616" stroke-width="0.9" stroke-linecap="round"/>
<line x1="213.14" y1="594.78" x2="212.05" y2="603.34" stroke="#161616" stroke-width="0.9" stroke-linecap="round"/><line x1="211.35" y1="594.56" x2="210.26" y2="603.12" stroke="#161616" stroke-width="0.9" stroke-linecap="round"/>
<line x1="229.8" y1="593" x2="239.6" y2="579.9" stroke="#161616" stroke-width="0.9" stroke-linecap="round"/>
<line x1="239.6" y1="579.9" x2="255.6" y2="581" stroke="#161616" stroke-width="0.9" stroke-linecap="round"/>
<line x1="255.6" y1="581" x2="262.6" y2="596.3" stroke="#161616" stroke-width="0.9" stroke-linecap="round"/>
<line x1="262.6" y1="596.3" x2="252.8" y2="608.8" stroke="#161616" stroke-width="0.9" stroke-linecap="round"/>
<line x1="252.8" y1="608.8" x2="237" y2="607.3" stroke="#161616" stroke-width="0.9" stroke-linecap="round"/>
<line x1="237" y1="607.3" x2="229.8" y2="593" stroke="#161616" stroke-width="0.9" stroke-linecap="round"/>
<line x1="241.06" y1="582.01" x2="253.87" y2="582.89" stroke="#161616" stroke-width="0.9" stroke-linecap="round"/>
<line x1="260.04" y1="596.33" x2="252.21" y2="606.31" stroke="#161616" stroke-width="0.9" stroke-linecap="round"/>
<line x1="238.07" y1="604.97" x2="232.31" y2="593.53" stroke="#161616" stroke-width="0.9" stroke-linecap="round"/>
<line x1="262.6" y1="596.3" x2="278.6" y2="597.8" stroke="#161616" stroke-width="0.9" stroke-linecap="round"/>
<text x="37.4" y="603.85" font-family="'Liberation Sans','DejaVu Sans',sans-serif" font-size="6.5" fill="#1c2be0" text-anchor="middle" >N</text>
<text x="40.8" y="600.4" font-family="'Liberation Sans','DejaVu Sans',sans-serif" font-size="3.6" fill="#1c2be0" text-anchor="middle" >+</text>
<text x="23.3" y="596.1" font-family="'Liberation Sans','DejaVu Sans',sans-serif" font-size="5.4" fill="#e81c1c" text-anchor="middle" >O</text>
<text x="26.9" y="592.6" font-family="'Liberation Sans','DejaVu Sans',sans-serif" font-size="3.6" fill="#e81c1c" text-anchor="middle" >−</text>
<text x="37.4" y="620.4" font-family="'Liberation Sans','DejaVu Sans',sans-serif" font-size="5.4" fill="#e81c1c" text-anchor="middle" >O</text>
<text x="95.8" y="603.85" font-family="'Liberation Sans','DejaVu Sans',sans-serif" font-size="6.5" fill="#1c2be0" text-anchor="middle" >N</text>
<text x="95.8" y="609.8" font-family="'Liberation Sans','DejaVu Sans',sans-serif" font-size="6.3" fill="#1c2be0" text-anchor="middle" >H</text>
<text x="125" y="603.85" font-family="'Liberation Sans','DejaVu Sans',sans-serif" font-size="6.5" fill="#1c2be0" text-anchor="middle" >N</text>
<text x="125" y="609.8" font-family="'Liberation Sans','DejaVu Sans',sans-serif" font-size="6.3" fill="#1c2be0" text-anchor="middle" >H</text>
<text x="110.7" y="580.2" font-family="'Liberation Sans','DejaVu Sans',sans-serif" font-size="5.6" fill="#cdbb10" text-anchor="middle" >S</text>
<text x="139.6" y="597.05" font-family="'Liberation Sans','DejaVu Sans',sans-serif" font-size="6.5" fill="#1c2be0" text-anchor="middle" >N</text>
<text x="195.4" y="590.85" font-family="'Liberation Sans','DejaVu Sans',sans-serif" font-size="6.5" fill="#1c2be0" text-anchor="middle" >N</text>
<text x="212.7" y="593.1" font-family="'Liberation Sans','DejaVu Sans',sans-serif" font-size="5.6" fill="#cdbb10" text-anchor="middle" >S</text>
<text x="214.9" y="576.8" font-family="'Liberation Sans','DejaVu Sans',sans-serif" font-size="5.4" fill="#e81c1c" text-anchor="middle" >O</text>
<text x="210.7" y="608.7" font-family="'Liberation Sans','DejaVu Sans',sans-serif" font-size="5.4" fill="#e81c1c" text-anchor="middle" >O</text>
<circle cx="113.2" cy="484.3" r="7.3" fill="#888" opacity="0.55" filter="url(#shE)"/><circle cx="112.2" cy="483.1" r="7.3" fill="url(#gCyan)" stroke="#666" stroke-width="0.45" stroke-opacity="0.55"/><text x="112.2" y="479.2" font-family="'Liberation Sans','DejaVu Sans',sans-serif" font-size="4.6" fill="#111" text-anchor="middle" >A:</text><text x="112.2" y="484.5" font-family="'Liberation Sans','DejaVu Sans',sans-serif" font-size="4.6" fill="#111" text-anchor="middle" >HIS</text><text x="112.2" y="489.3" font-family="'Liberation Sans','DejaVu Sans',sans-serif" font-size="4.6" fill="#111" text-anchor="middle" >76</text>
<circle cx="187.4" cy="498.8" r="7.3" fill="#888" opacity="0.55" filter="url(#shE)"/><circle cx="186.4" cy="497.6" r="7.3" fill="url(#gCyan)" stroke="#666" stroke-width="0.45" stroke-opacity="0.55"/><text x="186.4" y="493.7" font-family="'Liberation Sans','DejaVu Sans',sans-serif" font-size="4.6" fill="#111" text-anchor="middle" >A:</text><text x="186.4" y="499" font-family="'Liberation Sans','DejaVu Sans',sans-serif" font-size="4.6" fill="#111" text-anchor="middle" >HIS</text><text x="186.4" y="503.8" font-family="'Liberation Sans','DejaVu Sans',sans-serif" font-size="4.6" fill="#111" text-anchor="middle" >285</text>
<circle cx="139.8" cy="535.2" r="7.3" fill="#888" opacity="0.55" filter="url(#shE)"/><circle cx="138.8" cy="534" r="7.3" fill="url(#gGreen)" stroke="#666" stroke-width="0.45" stroke-opacity="0.55"/><text x="138.8" y="530.1" font-family="'Liberation Sans','DejaVu Sans',sans-serif" font-size="4.6" fill="#111" text-anchor="middle" >A:</text><text x="138.8" y="535.4" font-family="'Liberation Sans','DejaVu Sans',sans-serif" font-size="4.6" fill="#111" text-anchor="middle" >TYR</text><text x="138.8" y="540.2" font-family="'Liberation Sans','DejaVu Sans',sans-serif" font-size="4.6" fill="#111" text-anchor="middle" >65</text>
<circle cx="211.5" cy="533.8" r="7.3" fill="#888" opacity="0.55" filter="url(#shE)"/><circle cx="210.5" cy="532.6" r="7.3" fill="url(#gBlue)" stroke="#666" stroke-width="0.45" stroke-opacity="0.55"/><text x="210.5" y="528.7" font-family="'Liberation Sans','DejaVu Sans',sans-serif" font-size="4.6" fill="#111" text-anchor="middle" >A:</text><text x="210.5" y="534" font-family="'Liberation Sans','DejaVu Sans',sans-serif" font-size="4.6" fill="#111" text-anchor="middle" >LYS</text><text x="210.5" y="538.8" font-family="'Liberation Sans','DejaVu Sans',sans-serif" font-size="4.6" fill="#111" text-anchor="middle" >79</text>
<circle cx="248.3" cy="514.1" r="7.3" fill="#888" opacity="0.55" filter="url(#shE)"/><circle cx="247.3" cy="512.9" r="7.3" fill="url(#gOlive)" stroke="#666" stroke-width="0.45" stroke-opacity="0.55"/><text x="247.3" y="509" font-family="'Liberation Sans','DejaVu Sans',sans-serif" font-size="4.6" fill="#111" text-anchor="middle" >A:</text><text x="247.3" y="514.3" font-family="'Liberation Sans','DejaVu Sans',sans-serif" font-size="4.6" fill="#111" text-anchor="middle" >VAL</text><text x="247.3" y="519.1" font-family="'Liberation Sans','DejaVu Sans',sans-serif" font-size="4.6" fill="#111" text-anchor="middle" >283</text>
<circle cx="231.7" cy="549.8" r="7.3" fill="#888" opacity="0.55" filter="url(#shE)"/><circle cx="230.7" cy="548.6" r="7.3" fill="url(#gCyan)" stroke="#666" stroke-width="0.45" stroke-opacity="0.55"/><text x="230.7" y="544.7" font-family="'Liberation Sans','DejaVu Sans',sans-serif" font-size="4.6" fill="#111" text-anchor="middle" >A:</text><text x="230.7" y="550" font-family="'Liberation Sans','DejaVu Sans',sans-serif" font-size="4.6" fill="#111" text-anchor="middle" >HIS</text><text x="230.7" y="554.8" font-family="'Liberation Sans','DejaVu Sans',sans-serif" font-size="4.6" fill="#111" text-anchor="middle" >88</text>
<circle cx="315.8" cy="496.6" r="7.3" fill="#888" opacity="0.55" filter="url(#shE)"/><circle cx="314.8" cy="495.4" r="7.3" fill="url(#gGreen)" stroke="#666" stroke-width="0.45" stroke-opacity="0.55"/><text x="314.8" y="491.5" font-family="'Liberation Sans','DejaVu Sans',sans-serif" font-size="4.6" fill="#111" text-anchor="middle" >A:</text><text x="314.8" y="496.8" font-family="'Liberation Sans','DejaVu Sans',sans-serif" font-size="4.6" fill="#111" text-anchor="middle" >TYR</text><text x="314.8" y="501.6" font-family="'Liberation Sans','DejaVu Sans',sans-serif" font-size="4.6" fill="#111" text-anchor="middle" >78</text>
<circle cx="273.9" cy="556.7" r="7.3" fill="#888" opacity="0.55" filter="url(#shE)"/><circle cx="272.9" cy="555.5" r="7.3" fill="url(#gGreen)" stroke="#666" stroke-width="0.45" stroke-opacity="0.55"/><text x="272.9" y="551.6" font-family="'Liberation Sans','DejaVu Sans',sans-serif" font-size="4.6" fill="#111" text-anchor="middle" >A:</text><text x="272.9" y="556.9" font-family="'Liberation Sans','DejaVu Sans',sans-serif" font-size="4.6" fill="#111" text-anchor="middle" >LEU</text><text x="272.9" y="561.7" font-family="'Liberation Sans','DejaVu Sans',sans-serif" font-size="4.6" fill="#111" text-anchor="middle" >63</text>
<circle cx="328" cy="545.9" r="7.3" fill="#888" opacity="0.55" filter="url(#shE)"/><circle cx="327" cy="544.7" r="7.3" fill="url(#gGreen)" stroke="#666" stroke-width="0.45" stroke-opacity="0.55"/><text x="327" y="540.8" font-family="'Liberation Sans','DejaVu Sans',sans-serif" font-size="4.6" fill="#111" text-anchor="middle" >A:</text><text x="327" y="546.1" font-family="'Liberation Sans','DejaVu Sans',sans-serif" font-size="4.6" fill="#111" text-anchor="middle" >ALA</text><text x="327" y="550.9" font-family="'Liberation Sans','DejaVu Sans',sans-serif" font-size="4.6" fill="#111" text-anchor="middle" >86</text>
<circle cx="6" cy="569.6" r="7.3" fill="#888" opacity="0.55" filter="url(#shE)"/><circle cx="5" cy="568.4" r="7.3" fill="url(#gGreen)" stroke="#666" stroke-width="0.45" stroke-opacity="0.55"/><text x="5" y="564.5" font-family="'Liberation Sans','DejaVu Sans',sans-serif" font-size="4.6" fill="#111" text-anchor="middle" >A:</text><text x="5" y="569.8" font-family="'Liberation Sans','DejaVu Sans',sans-serif" font-size="4.6" fill="#111" text-anchor="middle" >PHE</text><text x="5" y="574.6" font-family="'Liberation Sans','DejaVu Sans',sans-serif" font-size="4.6" fill="#111" text-anchor="middle" >192</text>
<circle cx="8.5" cy="630.7" r="7.3" fill="#888" opacity="0.55" filter="url(#shE)"/><circle cx="7.5" cy="629.5" r="7.3" fill="url(#gGreen)" stroke="#666" stroke-width="0.45" stroke-opacity="0.55"/><text x="7.5" y="625.6" font-family="'Liberation Sans','DejaVu Sans',sans-serif" font-size="4.6" fill="#111" text-anchor="middle" >A:</text><text x="7.5" y="630.9" font-family="'Liberation Sans','DejaVu Sans',sans-serif" font-size="4.6" fill="#111" text-anchor="middle" >PRO</text><text x="7.5" y="635.7" font-family="'Liberation Sans','DejaVu Sans',sans-serif" font-size="4.6" fill="#111" text-anchor="middle" >64</text>
<circle cx="52.5" cy="647.3" r="7.3" fill="#888" opacity="0.55" filter="url(#shE)"/><circle cx="51.5" cy="646.1" r="7.3" fill="url(#gOlive)" stroke="#666" stroke-width="0.45" stroke-opacity="0.55"/><text x="51.5" y="642.2" font-family="'Liberation Sans','DejaVu Sans',sans-serif" font-size="4.6" fill="#111" text-anchor="middle" >A:</text><text x="51.5" y="647.5" font-family="'Liberation Sans','DejaVu Sans',sans-serif" font-size="4.6" fill="#111" text-anchor="middle" >PRO</text><text x="51.5" y="652.3" font-family="'Liberation Sans','DejaVu Sans',sans-serif" font-size="4.6" fill="#111" text-anchor="middle" >284</text>
<circle cx="112.7" cy="626.5" r="7.3" fill="#888" opacity="0.55" filter="url(#shE)"/><circle cx="111.7" cy="625.3" r="7.3" fill="url(#gOrange)" stroke="#666" stroke-width="0.45" stroke-opacity="0.55"/><text x="111.7" y="621.4" font-family="'Liberation Sans','DejaVu Sans',sans-serif" font-size="4.6" fill="#111" text-anchor="middle" >A:</text><text x="111.7" y="626.7" font-family="'Liberation Sans','DejaVu Sans',sans-serif" font-size="4.6" fill="#111" text-anchor="middle" >GLU</text><text x="111.7" y="631.5" font-family="'Liberation Sans','DejaVu Sans',sans-serif" font-size="4.6" fill="#111" text-anchor="middle" >63</text>
<circle cx="85.9" cy="671.7" r="7.3" fill="#888" opacity="0.55" filter="url(#shE)"/><circle cx="84.9" cy="670.5" r="7.3" fill="url(#gOrange)" stroke="#666" stroke-width="0.45" stroke-opacity="0.55"/><text x="84.9" y="666.6" font-family="'Liberation Sans','DejaVu Sans',sans-serif" font-size="4.6" fill="#111" text-anchor="middle" >A:</text><text x="84.9" y="671.9" font-family="'Liberation Sans','DejaVu Sans',sans-serif" font-size="4.6" fill="#111" text-anchor="middle" >GLU</text><text x="84.9" y="676.7" font-family="'Liberation Sans','DejaVu Sans',sans-serif" font-size="4.6" fill="#111" text-anchor="middle" >183</text>
<circle cx="197.5" cy="635.9" r="7.3" fill="#888" opacity="0.55" filter="url(#shE)"/><circle cx="196.5" cy="634.7" r="7.3" fill="url(#gOrange)" stroke="#666" stroke-width="0.45" stroke-opacity="0.55"/><text x="196.5" y="630.8" font-family="'Liberation Sans','DejaVu Sans',sans-serif" font-size="4.6" fill="#111" text-anchor="middle" >A:</text><text x="196.5" y="636.1" font-family="'Liberation Sans','DejaVu Sans',sans-serif" font-size="4.6" fill="#111" text-anchor="middle" >GLU</text><text x="196.5" y="640.9" font-family="'Liberation Sans','DejaVu Sans',sans-serif" font-size="4.6" fill="#111" text-anchor="middle" >189</text>
<circle cx="224.8" cy="636.7" r="7.3" fill="#888" opacity="0.55" filter="url(#shE)"/><circle cx="223.8" cy="635.5" r="7.3" fill="url(#gGreen)" stroke="#666" stroke-width="0.45" stroke-opacity="0.55"/><text x="223.8" y="631.6" font-family="'Liberation Sans','DejaVu Sans',sans-serif" font-size="4.6" fill="#111" text-anchor="middle" >A:</text><text x="223.8" y="636.9" font-family="'Liberation Sans','DejaVu Sans',sans-serif" font-size="4.6" fill="#111" text-anchor="middle" >TYR</text><text x="223.8" y="641.7" font-family="'Liberation Sans','DejaVu Sans',sans-serif" font-size="4.6" fill="#111" text-anchor="middle" >82</text>
<circle cx="184.8" cy="673.1" r="7.3" fill="#888" opacity="0.55" filter="url(#shE)"/><circle cx="183.8" cy="671.9" r="7.3" fill="url(#gCyan)" stroke="#666" stroke-width="0.45" stroke-opacity="0.55"/><text x="183.8" y="668" font-family="'Liberation Sans','DejaVu Sans',sans-serif" font-size="4.6" fill="#111" text-anchor="middle" >A:</text><text x="183.8" y="673.3" font-family="'Liberation Sans','DejaVu Sans',sans-serif" font-size="4.6" fill="#111" text-anchor="middle" >SER</text><text x="183.8" y="678.1" font-family="'Liberation Sans','DejaVu Sans',sans-serif" font-size="4.6" fill="#111" text-anchor="middle" >282</text>
<circle cx="122" cy="552.5" r="4.9" fill="#999" opacity="0.5" filter="url(#shE)"/><circle cx="121.3" cy="551.6" r="4.9" fill="url(#gGray)"/><text x="121.3" y="553" font-family="'Liberation Sans','DejaVu Sans',sans-serif" font-size="4.3" fill="#222" text-anchor="middle">H<tspan font-size="2.9" dy="0.8">2</tspan><tspan dy="-0.8">O</tspan></text>
<circle cx="267.6" cy="532.1" r="4.9" fill="#999" opacity="0.5" filter="url(#shE)"/><circle cx="266.9" cy="531.2" r="4.9" fill="url(#gGray)"/><text x="266.9" y="532.6" font-family="'Liberation Sans','DejaVu Sans',sans-serif" font-size="4.3" fill="#222" text-anchor="middle">H<tspan font-size="2.9" dy="0.8">2</tspan><tspan dy="-0.8">O</tspan></text>
<circle cx="89.1" cy="635.5" r="4.9" fill="#999" opacity="0.5" filter="url(#shE)"/><circle cx="88.4" cy="634.6" r="4.9" fill="url(#gGray)"/><text x="88.4" y="636" font-family="'Liberation Sans','DejaVu Sans',sans-serif" font-size="4.3" fill="#222" text-anchor="middle">H<tspan font-size="2.9" dy="0.8">2</tspan><tspan dy="-0.8">O</tspan></text>
<circle cx="135.8" cy="635.5" r="4.9" fill="#999" opacity="0.5" filter="url(#shE)"/><circle cx="135.1" cy="634.6" r="4.9" fill="url(#gGray)"/><text x="135.1" y="636" font-family="'Liberation Sans','DejaVu Sans',sans-serif" font-size="4.3" fill="#222" text-anchor="middle">H<tspan font-size="2.9" dy="0.8">2</tspan><tspan dy="-0.8">O</tspan></text>
<circle cx="163.9" cy="633.4" r="4.9" fill="#999" opacity="0.5" filter="url(#shE)"/><circle cx="163.2" cy="632.5" r="4.9" fill="url(#gGray)"/><text x="163.2" y="633.9" font-family="'Liberation Sans','DejaVu Sans',sans-serif" font-size="4.3" fill="#222" text-anchor="middle">H<tspan font-size="2.9" dy="0.8">2</tspan><tspan dy="-0.8">O</tspan></text>
<circle cx="112.9" cy="670.4" r="4.9" fill="#999" opacity="0.5" filter="url(#shE)"/><circle cx="112.2" cy="669.5" r="4.9" fill="url(#gGray)"/><text x="112.2" y="670.9" font-family="'Liberation Sans','DejaVu Sans',sans-serif" font-size="4.3" fill="#222" text-anchor="middle">H<tspan font-size="2.9" dy="0.8">2</tspan><tspan dy="-0.8">O</tspan></text>
<circle cx="209.9" cy="673.6" r="4.9" fill="#999" opacity="0.5" filter="url(#shE)"/><circle cx="209.2" cy="672.7" r="4.9" fill="url(#gGray)"/><text x="209.2" y="674.1" font-family="'Liberation Sans','DejaVu Sans',sans-serif" font-size="4.3" fill="#222" text-anchor="middle">H<tspan font-size="2.9" dy="0.8">2</tspan><tspan dy="-0.8">O</tspan></text>
<circle cx="255" cy="662.3" r="4.9" fill="#999" opacity="0.5" filter="url(#shE)"/><circle cx="254.3" cy="661.4" r="4.9" fill="url(#gGray)"/><text x="254.3" y="662.8" font-family="'Liberation Sans','DejaVu Sans',sans-serif" font-size="4.3" fill="#222" text-anchor="middle">H<tspan font-size="2.9" dy="0.8">2</tspan><tspan dy="-0.8">O</tspan></text>
<text x="25.2" y="485.4" font-family="'Liberation Sans','DejaVu Sans',sans-serif" font-size="13.6" fill="#111" text-anchor="start" >(e)</text>
<rect x="384.4" y="653.67" width="5.6" height="0.83" fill="#386cb0" stroke="none" stroke-width="1" />
<rect x="391.02" y="649.52" width="5.6" height="4.98" fill="#7fc97f" stroke="none" stroke-width="1" />
<rect x="391.02" y="633.74" width="5.6" height="15.78" fill="#386cb0" stroke="none" stroke-width="1" />
<rect x="404.25" y="644.53" width="5.6" height="9.97" fill="#beaed4" stroke="none" stroke-width="1" />
<rect x="410.86" y="652.01" width="5.6" height="2.49" fill="#7fc97f" stroke="none" stroke-width="1" />
<rect x="410.86" y="650.85" width="5.6" height="1.16" fill="#386cb0" stroke="none" stroke-width="1" />
<rect x="417.48" y="652.51" width="5.6" height="1.99" fill="#386cb0" stroke="none" stroke-width="1" />
<rect x="424.1" y="650.51" width="5.6" height="3.99" fill="#386cb0" stroke="none" stroke-width="1" />
<rect x="430.71" y="632.91" width="5.6" height="21.59" fill="#beaed4" stroke="none" stroke-width="1" />
<rect x="430.71" y="631.25" width="5.6" height="1.66" fill="#386cb0" stroke="none" stroke-width="1" />
<rect x="437.33" y="643.54" width="5.6" height="10.96" fill="#beaed4" stroke="none" stroke-width="1" />
<rect x="443.94" y="637.89" width="5.6" height="16.61" fill="#7fc97f" stroke="none" stroke-width="1" />
<rect x="443.94" y="529.92" width="5.6" height="107.97" fill="#beaed4" stroke="none" stroke-width="1" />
<rect x="443.94" y="527.43" width="5.6" height="2.49" fill="#f0027f" stroke="none" stroke-width="1" />
<rect x="443.94" y="493.05" width="5.6" height="34.38" fill="#386cb0" stroke="none" stroke-width="1" />
<rect x="450.56" y="647.03" width="5.6" height="7.47" fill="#7fc97f" stroke="none" stroke-width="1" />
<rect x="450.56" y="637.89" width="5.6" height="9.14" fill="#386cb0" stroke="none" stroke-width="1" />
<rect x="457.18" y="587.73" width="5.6" height="66.77" fill="#7fc97f" stroke="none" stroke-width="1" />
<rect x="457.18" y="554.51" width="5.6" height="33.22" fill="#386cb0" stroke="none" stroke-width="1" />
<rect x="463.79" y="651.84" width="5.6" height="2.66" fill="#386cb0" stroke="none" stroke-width="1" />
<rect x="470.41" y="651.18" width="5.6" height="3.32" fill="#7fc97f" stroke="none" stroke-width="1" />
<rect x="470.41" y="637.39" width="5.6" height="13.79" fill="#386cb0" stroke="none" stroke-width="1" />
<rect x="477.02" y="639.55" width="5.6" height="14.95" fill="#386cb0" stroke="none" stroke-width="1" />
<rect x="483.64" y="647.03" width="5.6" height="7.47" fill="#beaed4" stroke="none" stroke-width="1" />
<rect x="483.64" y="640.05" width="5.6" height="6.98" fill="#386cb0" stroke="none" stroke-width="1" />
<rect x="496.87" y="643.54" width="5.6" height="10.96" fill="#386cb0" stroke="none" stroke-width="1" />
<rect x="503.49" y="652.84" width="5.6" height="1.66" fill="#7fc97f" stroke="none" stroke-width="1" />
<rect x="503.49" y="612.98" width="5.6" height="39.86" fill="#beaed4" stroke="none" stroke-width="1" />
<rect x="503.49" y="609.32" width="5.6" height="3.65" fill="#f0027f" stroke="none" stroke-width="1" />
<rect x="503.49" y="598.52" width="5.6" height="10.8" fill="#386cb0" stroke="none" stroke-width="1" />
<rect x="510.1" y="628.75" width="5.6" height="25.75" fill="#7fc97f" stroke="none" stroke-width="1" />
<rect x="510.1" y="627.59" width="5.6" height="1.16" fill="#beaed4" stroke="none" stroke-width="1" />
<rect x="510.1" y="626.6" width="5.6" height="1" fill="#386cb0" stroke="none" stroke-width="1" />
<rect x="516.72" y="652.51" width="5.6" height="1.99" fill="#7fc97f" stroke="none" stroke-width="1" />
<rect x="516.72" y="640.88" width="5.6" height="11.63" fill="#386cb0" stroke="none" stroke-width="1" />
<rect x="523.34" y="599.35" width="5.6" height="55.15" fill="#beaed4" stroke="none" stroke-width="1" />
<rect x="523.34" y="597.53" width="5.6" height="1.83" fill="#386cb0" stroke="none" stroke-width="1" />
<rect x="529.95" y="653.01" width="5.6" height="1.49" fill="#386cb0" stroke="none" stroke-width="1" />
<rect x="536.57" y="642.04" width="5.6" height="12.46" fill="#7fc97f" stroke="none" stroke-width="1" />
<rect x="536.57" y="634.24" width="5.6" height="7.81" fill="#beaed4" stroke="none" stroke-width="1" />
<rect x="536.57" y="630.75" width="5.6" height="3.49" fill="#386cb0" stroke="none" stroke-width="1" />
<rect x="543.18" y="653.5" width="5.6" height="1" fill="#386cb0" stroke="none" stroke-width="1" />
<rect x="563.03" y="653.84" width="5.6" height="0.66" fill="#7fc97f" stroke="none" stroke-width="1" />
<rect x="563.03" y="652.84" width="5.6" height="1" fill="#f0027f" stroke="none" stroke-width="1" />
<rect x="563.03" y="634.57" width="5.6" height="18.27" fill="#386cb0" stroke="none" stroke-width="1" />
<rect x="569.65" y="653.5" width="5.6" height="1" fill="#beaed4" stroke="none" stroke-width="1" />
<rect x="576.26" y="650.35" width="5.6" height="4.15" fill="#7fc97f" stroke="none" stroke-width="1" />
<rect x="576.26" y="635.23" width="5.6" height="15.12" fill="#386cb0" stroke="none" stroke-width="1" />
<rect x="582.88" y="647.03" width="5.6" height="7.47" fill="#beaed4" stroke="none" stroke-width="1" />
<rect x="589.5" y="648.52" width="5.6" height="5.98" fill="#7fc97f" stroke="none" stroke-width="1" />
<rect x="589.5" y="640.05" width="5.6" height="8.47" fill="#386cb0" stroke="none" stroke-width="1" />
<rect x="596.11" y="640.88" width="5.6" height="13.62" fill="#beaed4" stroke="none" stroke-width="1" />
<rect x="602.73" y="652.34" width="5.6" height="2.16" fill="#beaed4" stroke="none" stroke-width="1" />
<rect x="622.58" y="653.5" width="5.6" height="1" fill="#386cb0" stroke="none" stroke-width="1" />
<rect x="629.19" y="644.53" width="5.6" height="9.97" fill="#7fc97f" stroke="none" stroke-width="1" />
<rect x="629.19" y="633.74" width="5.6" height="10.8" fill="#386cb0" stroke="none" stroke-width="1" />
<rect x="635.81" y="640.38" width="5.6" height="14.12" fill="#7fc97f" stroke="none" stroke-width="1" />
<rect x="635.81" y="636.23" width="5.6" height="4.15" fill="#beaed4" stroke="none" stroke-width="1" />
<rect x="635.81" y="630.08" width="5.6" height="6.15" fill="#386cb0" stroke="none" stroke-width="1" />
<rect x="642.42" y="635.4" width="5.6" height="19.1" fill="#beaed4" stroke="none" stroke-width="1" />
<rect x="649.04" y="642.04" width="5.6" height="12.46" fill="#beaed4" stroke="none" stroke-width="1" />
<rect x="649.04" y="636.73" width="5.6" height="5.32" fill="#386cb0" stroke="none" stroke-width="1" />
<rect x="655.66" y="654" width="5.6" height="0.5" fill="#beaed4" stroke="none" stroke-width="1" />
<rect x="668.89" y="653.34" width="5.6" height="1.16" fill="#386cb0" stroke="none" stroke-width="1" />
<rect x="675.5" y="652.67" width="5.6" height="1.83" fill="#beaed4" stroke="none" stroke-width="1" />
<line x1="383.3" y1="484.5" x2="686" y2="484.5" stroke="#555" stroke-width="1" />
<line x1="383.3" y1="484.5" x2="383.3" y2="654.5" stroke="#555" stroke-width="1" />
<line x1="383.3" y1="654.5" x2="686" y2="654.5" stroke="#444" stroke-width="1" />
<line x1="380.9" y1="654.5" x2="383.3" y2="654.5" stroke="#222" stroke-width="0.7" />
<text x="379.7" y="657.6" font-family="'DejaVu Sans','Liberation Sans',sans-serif" font-size="8.2" fill="#111" text-anchor="end" textLength="8.7" lengthAdjust="spacingAndGlyphs" >0.0</text>
<line x1="380.9" y1="621.28" x2="383.3" y2="621.28" stroke="#222" stroke-width="0.7" />
<text x="379.7" y="624.38" font-family="'DejaVu Sans','Liberation Sans',sans-serif" font-size="8.2" fill="#111" text-anchor="end" textLength="8.7" lengthAdjust="spacingAndGlyphs" >0.2</text>
<line x1="380.9" y1="588.06" x2="383.3" y2="588.06" stroke="#222" stroke-width="0.7" />
<text x="379.7" y="591.16" font-family="'DejaVu Sans','Liberation Sans',sans-serif" font-size="8.2" fill="#111" text-anchor="end" textLength="8.7" lengthAdjust="spacingAndGlyphs" >0.4</text>
<line x1="380.9" y1="554.84" x2="383.3" y2="554.84" stroke="#222" stroke-width="0.7" />
<text x="379.7" y="557.94" font-family="'DejaVu Sans','Liberation Sans',sans-serif" font-size="8.2" fill="#111" text-anchor="end" textLength="8.7" lengthAdjust="spacingAndGlyphs" >0.6</text>
<line x1="380.9" y1="521.62" x2="383.3" y2="521.62" stroke="#222" stroke-width="0.7" />
<text x="379.7" y="524.72" font-family="'DejaVu Sans','Liberation Sans',sans-serif" font-size="8.2" fill="#111" text-anchor="end" textLength="8.7" lengthAdjust="spacingAndGlyphs" >0.8</text>
<line x1="380.9" y1="488.4" x2="383.3" y2="488.4" stroke="#222" stroke-width="0.7" />
<text x="379.7" y="491.5" font-family="'DejaVu Sans','Liberation Sans',sans-serif" font-size="8.2" fill="#111" text-anchor="end" textLength="8.7" lengthAdjust="spacingAndGlyphs" >1.0</text>
<line x1="387.2" y1="654.5" x2="387.2" y2="657.1" stroke="#222" stroke-width="0.7" />
<text transform="translate(388.4 659.8) scale(0.70 1.165) rotate(-45)" font-family="'DejaVu Sans','Liberation Sans',sans-serif" font-size="6.55" fill="#2a2a2a" text-anchor="end" x="0" y="4.4">ASP_47</text>
<line x1="393.82" y1="654.5" x2="393.82" y2="657.1" stroke="#222" stroke-width="0.7" />
<text transform="translate(395.02 659.8) scale(0.70 1.165) rotate(-45)" font-family="'DejaVu Sans','Liberation Sans',sans-serif" font-size="6.55" fill="#2a2a2a" text-anchor="end" x="0" y="4.4">GLN_48</text>
<line x1="400.43" y1="654.5" x2="400.43" y2="657.1" stroke="#222" stroke-width="0.7" />
<text transform="translate(401.63 659.8) scale(0.70 1.165) rotate(-45)" font-family="'DejaVu Sans','Liberation Sans',sans-serif" font-size="6.55" fill="#2a2a2a" text-anchor="end" x="0" y="4.4">PHE_54</text>
<line x1="407.05" y1="654.5" x2="407.05" y2="657.1" stroke="#222" stroke-width="0.7" />
<text transform="translate(408.25 659.8) scale(0.70 1.165) rotate(-45)" font-family="'DejaVu Sans','Liberation Sans',sans-serif" font-size="6.55" fill="#2a2a2a" text-anchor="end" x="0" y="4.4">PHE_55</text>
<line x1="413.66" y1="654.5" x2="413.66" y2="657.1" stroke="#222" stroke-width="0.7" />
<text transform="translate(414.86 659.8) scale(0.70 1.165) rotate(-45)" font-family="'DejaVu Sans','Liberation Sans',sans-serif" font-size="6.55" fill="#2a2a2a" text-anchor="end" x="0" y="4.4">GLN_56</text>
<line x1="420.28" y1="654.5" x2="420.28" y2="657.1" stroke="#222" stroke-width="0.7" />
<text transform="translate(421.48 659.8) scale(0.70 1.165) rotate(-45)" font-family="'DejaVu Sans','Liberation Sans',sans-serif" font-size="6.55" fill="#2a2a2a" text-anchor="end" x="0" y="4.4">HIS_61</text>
<line x1="426.9" y1="654.5" x2="426.9" y2="657.1" stroke="#222" stroke-width="0.7" />
<text transform="translate(428.1 659.8) scale(0.70 1.165) rotate(-45)" font-family="'DejaVu Sans','Liberation Sans',sans-serif" font-size="6.55" fill="#2a2a2a" text-anchor="end" x="0" y="4.4">GLY_62</text>
<line x1="433.51" y1="654.5" x2="433.51" y2="657.1" stroke="#222" stroke-width="0.7" />
<text transform="translate(434.71 659.8) scale(0.70 1.165) rotate(-45)" font-family="'DejaVu Sans','Liberation Sans',sans-serif" font-size="6.55" fill="#2a2a2a" text-anchor="end" x="0" y="4.4">LEU_63</text>
<line x1="440.13" y1="654.5" x2="440.13" y2="657.1" stroke="#222" stroke-width="0.7" />
<text transform="translate(441.33 659.8) scale(0.70 1.165) rotate(-45)" font-family="'DejaVu Sans','Liberation Sans',sans-serif" font-size="6.55" fill="#2a2a2a" text-anchor="end" x="0" y="4.4">PRO_64</text>
<line x1="446.74" y1="654.5" x2="446.74" y2="657.1" stroke="#222" stroke-width="0.7" />
<text transform="translate(447.94 659.8) scale(0.70 1.165) rotate(-45)" font-family="'DejaVu Sans','Liberation Sans',sans-serif" font-size="6.55" fill="#2a2a2a" text-anchor="end" x="0" y="4.4">TYR_65</text>
<line x1="453.36" y1="654.5" x2="453.36" y2="657.1" stroke="#222" stroke-width="0.7" />
<text transform="translate(454.56 659.8) scale(0.70 1.165) rotate(-45)" font-family="'DejaVu Sans','Liberation Sans',sans-serif" font-size="6.55" fill="#2a2a2a" text-anchor="end" x="0" y="4.4">THR_66</text>
<line x1="459.98" y1="654.5" x2="459.98" y2="657.1" stroke="#222" stroke-width="0.7" />
<text transform="translate(461.18 659.8) scale(0.70 1.165) rotate(-45)" font-family="'DejaVu Sans','Liberation Sans',sans-serif" font-size="6.55" fill="#2a2a2a" text-anchor="end" x="0" y="4.4">GLU_67</text>
<line x1="466.59" y1="654.5" x2="466.59" y2="657.1" stroke="#222" stroke-width="0.7" />
<text transform="translate(467.79 659.8) scale(0.70 1.165) rotate(-45)" font-family="'DejaVu Sans','Liberation Sans',sans-serif" font-size="6.55" fill="#2a2a2a" text-anchor="end" x="0" y="4.4">TRP_68</text>
<line x1="473.21" y1="654.5" x2="473.21" y2="657.1" stroke="#222" stroke-width="0.7" />
<text transform="translate(474.41 659.8) scale(0.70 1.165) rotate(-45)" font-family="'DejaVu Sans','Liberation Sans',sans-serif" font-size="6.55" fill="#2a2a2a" text-anchor="end" x="0" y="4.4">GLN_74</text>
<line x1="479.82" y1="654.5" x2="479.82" y2="657.1" stroke="#222" stroke-width="0.7" />
<text transform="translate(481.02 659.8) scale(0.70 1.165) rotate(-45)" font-family="'DejaVu Sans','Liberation Sans',sans-serif" font-size="6.55" fill="#2a2a2a" text-anchor="end" x="0" y="4.4">LEU_75</text>
<line x1="486.44" y1="654.5" x2="486.44" y2="657.1" stroke="#222" stroke-width="0.7" />
<text transform="translate(487.64 659.8) scale(0.70 1.165) rotate(-45)" font-family="'DejaVu Sans','Liberation Sans',sans-serif" font-size="6.55" fill="#2a2a2a" text-anchor="end" x="0" y="4.4">HIS_76</text>
<line x1="493.06" y1="654.5" x2="493.06" y2="657.1" stroke="#222" stroke-width="0.7" />
<text transform="translate(494.26 659.8) scale(0.70 1.165) rotate(-45)" font-family="'DejaVu Sans','Liberation Sans',sans-serif" font-size="6.55" fill="#2a2a2a" text-anchor="end" x="0" y="4.4">LEU_77</text>
<line x1="499.67" y1="654.5" x2="499.67" y2="657.1" stroke="#222" stroke-width="0.7" />
<text transform="translate(500.87 659.8) scale(0.70 1.165) rotate(-45)" font-family="'DejaVu Sans','Liberation Sans',sans-serif" font-size="6.55" fill="#2a2a2a" text-anchor="end" x="0" y="4.4">TYR_78</text>
<line x1="506.29" y1="654.5" x2="506.29" y2="657.1" stroke="#222" stroke-width="0.7" />
<text transform="translate(507.49 659.8) scale(0.70 1.165) rotate(-45)" font-family="'DejaVu Sans','Liberation Sans',sans-serif" font-size="6.55" fill="#2a2a2a" text-anchor="end" x="0" y="4.4">LYS_79</text>
<line x1="512.9" y1="654.5" x2="512.9" y2="657.1" stroke="#222" stroke-width="0.7" />
<text transform="translate(514.1 659.8) scale(0.70 1.165) rotate(-45)" font-family="'DejaVu Sans','Liberation Sans',sans-serif" font-size="6.55" fill="#2a2a2a" text-anchor="end" x="0" y="4.4">ALA_80</text>
<line x1="519.52" y1="654.5" x2="519.52" y2="657.1" stroke="#222" stroke-width="0.7" />
<text transform="translate(520.72 659.8) scale(0.70 1.165) rotate(-45)" font-family="'DejaVu Sans','Liberation Sans',sans-serif" font-size="6.55" fill="#2a2a2a" text-anchor="end" x="0" y="4.4">ASN_81</text>
<line x1="526.14" y1="654.5" x2="526.14" y2="657.1" stroke="#222" stroke-width="0.7" />
<text transform="translate(527.34 659.8) scale(0.70 1.165) rotate(-45)" font-family="'DejaVu Sans','Liberation Sans',sans-serif" font-size="6.55" fill="#2a2a2a" text-anchor="end" x="0" y="4.4">TYR_82</text>
<line x1="532.75" y1="654.5" x2="532.75" y2="657.1" stroke="#222" stroke-width="0.7" />
<text transform="translate(533.95 659.8) scale(0.70 1.165) rotate(-45)" font-family="'DejaVu Sans','Liberation Sans',sans-serif" font-size="6.55" fill="#2a2a2a" text-anchor="end" x="0" y="4.4">CYS_83</text>
<line x1="539.37" y1="654.5" x2="539.37" y2="657.1" stroke="#222" stroke-width="0.7" />
<text transform="translate(540.57 659.8) scale(0.70 1.165) rotate(-45)" font-family="'DejaVu Sans','Liberation Sans',sans-serif" font-size="6.55" fill="#2a2a2a" text-anchor="end" x="0" y="4.4">SER_85</text>
<line x1="545.98" y1="654.5" x2="545.98" y2="657.1" stroke="#222" stroke-width="0.7" />
<text transform="translate(547.18 659.8) scale(0.70 1.165) rotate(-45)" font-family="'DejaVu Sans','Liberation Sans',sans-serif" font-size="6.55" fill="#2a2a2a" text-anchor="end" x="0" y="4.4">PHE_179</text>
<line x1="552.6" y1="654.5" x2="552.6" y2="657.1" stroke="#222" stroke-width="0.7" />
<text transform="translate(553.8 659.8) scale(0.70 1.165) rotate(-45)" font-family="'DejaVu Sans','Liberation Sans',sans-serif" font-size="6.55" fill="#2a2a2a" text-anchor="end" x="0" y="4.4">THR_181</text>
<line x1="559.22" y1="654.5" x2="559.22" y2="657.1" stroke="#222" stroke-width="0.7" />
<text transform="translate(560.42 659.8) scale(0.70 1.165) rotate(-45)" font-family="'DejaVu Sans','Liberation Sans',sans-serif" font-size="6.55" fill="#2a2a2a" text-anchor="end" x="0" y="4.4">PRO_183</text>
<line x1="565.83" y1="654.5" x2="565.83" y2="657.1" stroke="#222" stroke-width="0.7" />
<text transform="translate(567.03 659.8) scale(0.70 1.165) rotate(-45)" font-family="'DejaVu Sans','Liberation Sans',sans-serif" font-size="6.55" fill="#2a2a2a" text-anchor="end" x="0" y="4.4">GLU_185</text>
<line x1="572.45" y1="654.5" x2="572.45" y2="657.1" stroke="#222" stroke-width="0.7" />
<text transform="translate(573.65 659.8) scale(0.70 1.165) rotate(-45)" font-family="'DejaVu Sans','Liberation Sans',sans-serif" font-size="6.55" fill="#2a2a2a" text-anchor="end" x="0" y="4.4">PRO_186</text>
<line x1="579.06" y1="654.5" x2="579.06" y2="657.1" stroke="#222" stroke-width="0.7" />
<text transform="translate(580.26 659.8) scale(0.70 1.165) rotate(-45)" font-family="'DejaVu Sans','Liberation Sans',sans-serif" font-size="6.55" fill="#2a2a2a" text-anchor="end" x="0" y="4.4">THR_187</text>
<line x1="585.68" y1="654.5" x2="585.68" y2="657.1" stroke="#222" stroke-width="0.7" />
<text transform="translate(586.88 659.8) scale(0.70 1.165) rotate(-45)" font-family="'DejaVu Sans','Liberation Sans',sans-serif" font-size="6.55" fill="#2a2a2a" text-anchor="end" x="0" y="4.4">PHE_188</text>
<line x1="592.3" y1="654.5" x2="592.3" y2="657.1" stroke="#222" stroke-width="0.7" />
<text transform="translate(593.5 659.8) scale(0.70 1.165) rotate(-45)" font-family="'DejaVu Sans','Liberation Sans',sans-serif" font-size="6.55" fill="#2a2a2a" text-anchor="end" x="0" y="4.4">GLU_189</text>
<line x1="598.91" y1="654.5" x2="598.91" y2="657.1" stroke="#222" stroke-width="0.7" />
<text transform="translate(600.11 659.8) scale(0.70 1.165) rotate(-45)" font-family="'DejaVu Sans','Liberation Sans',sans-serif" font-size="6.55" fill="#2a2a2a" text-anchor="end" x="0" y="4.4">PHE_192</text>
<line x1="605.53" y1="654.5" x2="605.53" y2="657.1" stroke="#222" stroke-width="0.7" />
<text transform="translate(606.73 659.8) scale(0.70 1.165) rotate(-45)" font-family="'DejaVu Sans','Liberation Sans',sans-serif" font-size="6.55" fill="#2a2a2a" text-anchor="end" x="0" y="4.4">VAL_244</text>
<line x1="612.14" y1="654.5" x2="612.14" y2="657.1" stroke="#222" stroke-width="0.7" />
<text transform="translate(613.34 659.8) scale(0.70 1.165) rotate(-45)" font-family="'DejaVu Sans','Liberation Sans',sans-serif" font-size="6.55" fill="#2a2a2a" text-anchor="end" x="0" y="4.4">GLY_248</text>
<line x1="618.76" y1="654.5" x2="618.76" y2="657.1" stroke="#222" stroke-width="0.7" />
<text transform="translate(619.96 659.8) scale(0.70 1.165) rotate(-45)" font-family="'DejaVu Sans','Liberation Sans',sans-serif" font-size="6.55" fill="#2a2a2a" text-anchor="end" x="0" y="4.4">GLY_278</text>
<line x1="625.38" y1="654.5" x2="625.38" y2="657.1" stroke="#222" stroke-width="0.7" />
<text transform="translate(626.58 659.8) scale(0.70 1.165) rotate(-45)" font-family="'DejaVu Sans','Liberation Sans',sans-serif" font-size="6.55" fill="#2a2a2a" text-anchor="end" x="0" y="4.4">THR_281</text>
<line x1="631.99" y1="654.5" x2="631.99" y2="657.1" stroke="#222" stroke-width="0.7" />
<text transform="translate(633.19 659.8) scale(0.70 1.165) rotate(-45)" font-family="'DejaVu Sans','Liberation Sans',sans-serif" font-size="6.55" fill="#2a2a2a" text-anchor="end" x="0" y="4.4">SER_282</text>
<line x1="638.61" y1="654.5" x2="638.61" y2="657.1" stroke="#222" stroke-width="0.7" />
<text transform="translate(639.81 659.8) scale(0.70 1.165) rotate(-45)" font-family="'DejaVu Sans','Liberation Sans',sans-serif" font-size="6.55" fill="#2a2a2a" text-anchor="end" x="0" y="4.4">VAL_283</text>
<line x1="645.22" y1="654.5" x2="645.22" y2="657.1" stroke="#222" stroke-width="0.7" />
<text transform="translate(646.42 659.8) scale(0.70 1.165) rotate(-45)" font-family="'DejaVu Sans','Liberation Sans',sans-serif" font-size="6.55" fill="#2a2a2a" text-anchor="end" x="0" y="4.4">PRO_284</text>
<line x1="651.84" y1="654.5" x2="651.84" y2="657.1" stroke="#222" stroke-width="0.7" />
<text transform="translate(653.04 659.8) scale(0.70 1.165) rotate(-45)" font-family="'DejaVu Sans','Liberation Sans',sans-serif" font-size="6.55" fill="#2a2a2a" text-anchor="end" x="0" y="4.4">HIS_285</text>
<line x1="658.46" y1="654.5" x2="658.46" y2="657.1" stroke="#222" stroke-width="0.7" />
<text transform="translate(659.66 659.8) scale(0.70 1.165) rotate(-45)" font-family="'DejaVu Sans','Liberation Sans',sans-serif" font-size="6.55" fill="#2a2a2a" text-anchor="end" x="0" y="4.4">PRO_286</text>
<line x1="665.07" y1="654.5" x2="665.07" y2="657.1" stroke="#222" stroke-width="0.7" />
<text transform="translate(666.27 659.8) scale(0.70 1.165) rotate(-45)" font-family="'DejaVu Sans','Liberation Sans',sans-serif" font-size="6.55" fill="#2a2a2a" text-anchor="end" x="0" y="4.4">GLU_322</text>
<line x1="671.69" y1="654.5" x2="671.69" y2="657.1" stroke="#222" stroke-width="0.7" />
<text transform="translate(672.89 659.8) scale(0.70 1.165) rotate(-45)" font-family="'DejaVu Sans','Liberation Sans',sans-serif" font-size="6.55" fill="#2a2a2a" text-anchor="end" x="0" y="4.4">ASN_323</text>
<line x1="678.3" y1="654.5" x2="678.3" y2="657.1" stroke="#222" stroke-width="0.7" />
<text transform="translate(679.5 659.8) scale(0.70 1.165) rotate(-45)" font-family="'DejaVu Sans','Liberation Sans',sans-serif" font-size="6.55" fill="#2a2a2a" text-anchor="end" x="0" y="4.4">MET_325</text>
<text x="367.6" y="569.8" font-family="'DejaVu Sans','Liberation Sans',sans-serif" font-size="6" fill="#222" text-anchor="middle" textLength="87" lengthAdjust="spacingAndGlyphs" transform="rotate(-90 367.6 569.8)" >Interactions Fraction</text>
<text x="397.3" y="484.2" font-family="'Liberation Sans','DejaVu Sans',sans-serif" font-size="13.6" fill="#111" text-anchor="start" >(f)</text>
</svg>
</body></html>
